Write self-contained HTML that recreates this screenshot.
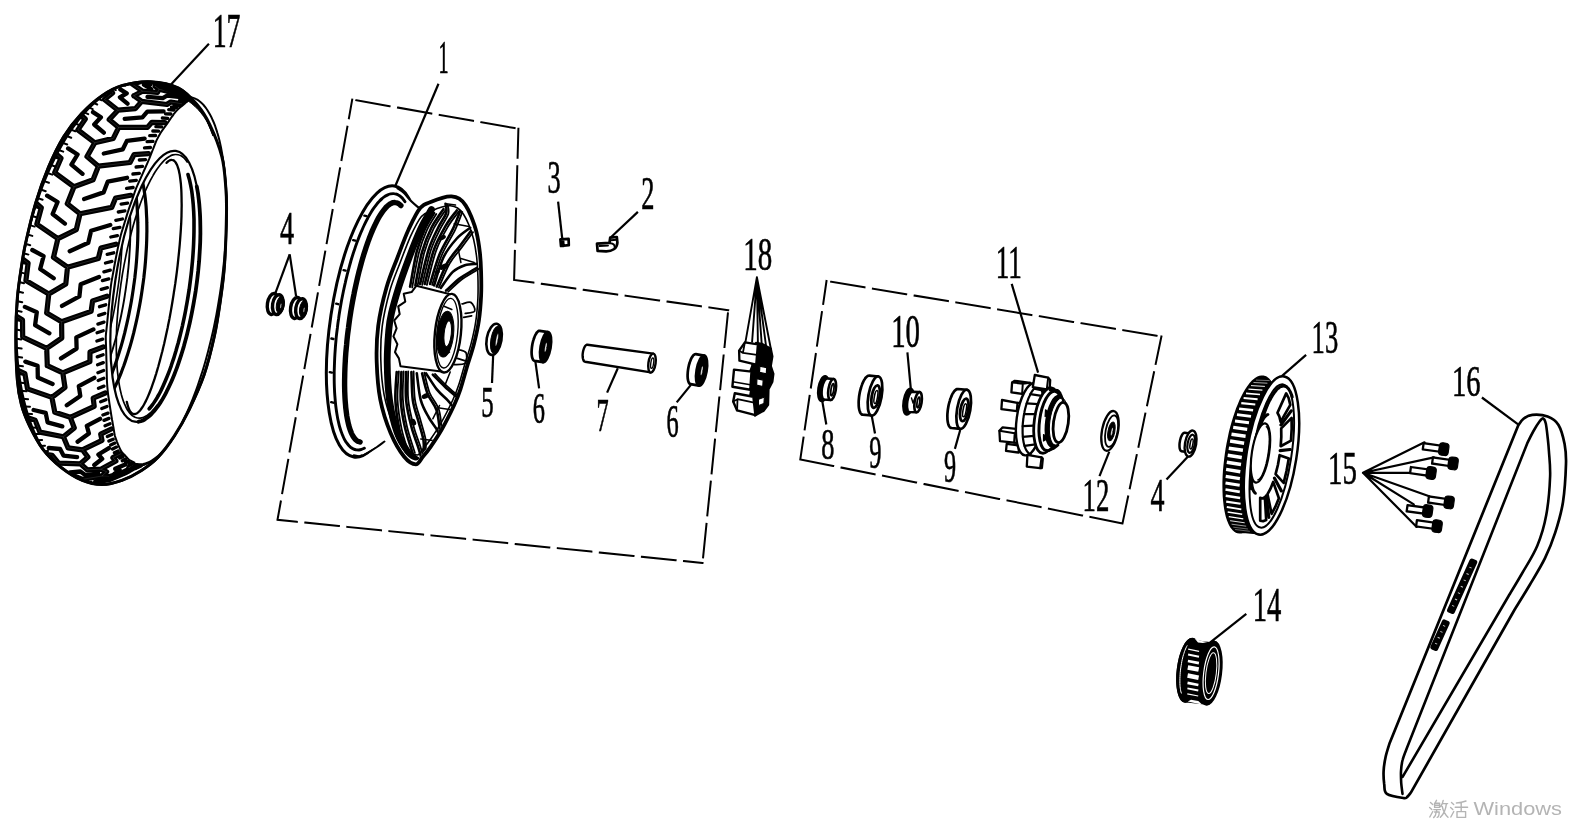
<!DOCTYPE html>
<html><head><meta charset="utf-8"><title>Rear wheel assembly</title>
<style>
html,body{margin:0;padding:0;background:#fff;}
body{width:1580px;height:823px;overflow:hidden;font-family:"Liberation Serif",serif;}
svg{display:block;position:absolute;left:0;top:0;will-change:transform;}
.k{stroke:#000;fill:none;stroke-linecap:round;stroke-linejoin:round;}
.w{stroke:#000;fill:#fff;stroke-linecap:round;stroke-linejoin:round;}
.b{stroke:#000;fill:#000;stroke-linejoin:round;}
text{font-family:"Liberation Serif",serif;fill:#000;}
</style></head><body>
<svg width="1580" height="823" viewBox="0 0 1580 823">
<rect x="0" y="0" width="1580" height="823" fill="#fff"/>
<!-- p_base -->
<path class="k" stroke-width="2" style="stroke-linecap:square" d="M356.3 100.3 L389.6 106.2 M398.0 107.6 L431.3 113.5 M439.7 115.0 L473.0 120.8 M481.3 122.3 L514.6 128.1 M518.4 128.8 L517.6 157.8 M517.3 166.3 L516.4 200.1 M516.1 208.6 L515.2 242.4 M514.9 250.9 L514.1 279.9 M514.1 279.9 L533.4 282.6 M541.8 283.8 L575.3 288.6 M583.7 289.8 L617.2 294.5 M625.6 295.7 L659.1 300.4 M667.5 301.6 L700.9 306.3 M709.4 307.5 L728.2 310.2 M727.9 313.4 L724.5 347.0 M723.6 355.5 L720.2 389.1 M719.3 397.5 L715.9 431.2 M715.0 439.6 L711.6 473.3 M710.8 481.7 L707.3 515.3 M706.5 523.8 L703.1 557.4 M277.5 519.8 L296.8 521.8 M305.3 522.6 L338.9 526.0 M347.3 526.9 L381.0 530.3 M389.4 531.2 L423.1 534.6 M431.5 535.4 L465.1 538.8 M473.6 539.7 L507.2 543.1 M515.7 544.0 L549.3 547.4 M557.8 548.2 L591.4 551.6 M599.8 552.5 L633.5 555.9 M641.9 556.8 L675.6 560.2 M684.0 561.0 L702.5 562.9 M352.2 99.6 L348.9 118.3 M347.4 126.7 L341.5 160.0 M340.0 168.3 L334.1 201.6 M332.6 210.0 L326.7 243.2 M325.2 251.6 L319.3 284.9 M317.8 293.3 L311.9 326.5 M310.4 334.9 L304.5 368.2 M303.0 376.6 L297.0 409.8 M295.6 418.2 L289.6 451.5 M288.2 459.9 L282.2 493.1 M280.8 501.5 L277.5 519.8 M831.1 281.8 L864.5 287.3 M872.9 288.7 L906.2 294.2 M914.6 295.6 L947.9 301.1 M956.3 302.5 L989.7 308.0 M998.1 309.4 L1031.4 315.0 M1039.8 316.3 L1073.1 321.9 M1081.5 323.3 L1114.9 328.8 M1123.3 330.2 L1156.6 335.7 M826.5 281.0 L823.2 303.8 M821.9 312.2 L817.0 345.6 M815.8 354.0 L810.9 387.5 M809.6 395.9 L804.7 429.3 M803.5 437.7 L800.3 459.4 M800.3 459.4 L833.2 465.9 M841.5 467.6 L874.6 474.2 M883.0 475.8 L916.1 482.4 M924.5 484.1 L957.6 490.7 M966.0 492.3 L999.1 498.9 M1007.5 500.5 L1040.6 507.1 M1048.9 508.8 L1082.1 515.4 M1090.4 517.0 L1122.5 523.4 M1161.4 336.5 L1155.7 363.9 M1154.0 372.2 L1147.1 405.3 M1145.3 413.6 L1138.5 446.7 M1136.7 455.1 L1129.8 488.2 M1128.1 496.5 L1122.5 523.4"/>
<g class="k" stroke-width="2.2" style="stroke-linecap:butt">
<path d="M208.9 43.7 L168.4 87.3"/>
<path d="M438.5 83.8 L395.2 186.2"/>
<path d="M558.1 201.7 L562.2 238.3"/>
<path d="M637.9 211.9 L610.9 237.3"/>
<path d="M289.7 254.4 L275.4 293.2"/>
<path d="M289.7 254.4 L296.1 296.1"/>
<path d="M493.2 354.4 L492.0 383.0"/>
<path d="M535.3 360.9 L539.1 388.4"/>
<path d="M617.8 368.3 L607.1 392.6"/>
<path d="M690.9 384.9 L676.7 402.4"/>
<path d="M822.2 400.6 L826.3 424.5"/>
<path d="M871.7 415.8 L875.0 433.5"/>
<path d="M907.4 352.3 L910.9 389.9"/>
<path d="M960.2 430.0 L954.9 448.9"/>
<path d="M1011.7 283.9 L1038.1 372.6"/>
<path d="M1109.3 451.7 L1099.5 476.1"/>
<path d="M1188.0 456.4 L1166.5 479.5"/>
<path d="M1306.1 354.8 L1281.8 376.1"/>
<path d="M1246.3 613.8 L1208.4 643.8"/>
<path d="M1481.9 397.5 L1518.8 424.8"/>
</g>
<text font-size="100" stroke="#000" stroke-width="0.55" vector-effect="non-scaling-stroke" transform="translate(212.70 46.80) scale(0.2780 0.4879)">17</text>
<text font-size="100" stroke="#000" stroke-width="0.55" vector-effect="non-scaling-stroke" transform="translate(438.50 73.20) scale(0.2020 0.4697)">1</text>
<text font-size="100" stroke="#000" stroke-width="0.55" vector-effect="non-scaling-stroke" transform="translate(547.60 193.14) scale(0.2640 0.4627)">3</text>
<text font-size="100" stroke="#000" stroke-width="0.55" vector-effect="non-scaling-stroke" transform="translate(641.30 209.30) scale(0.2640 0.4682)">2</text>
<text font-size="100" stroke="#000" stroke-width="0.55" vector-effect="non-scaling-stroke" transform="translate(743.20 270.23) scale(0.2900 0.4652)">18</text>
<text font-size="100" stroke="#000" stroke-width="0.55" vector-effect="non-scaling-stroke" transform="translate(280.00 243.90) scale(0.2820 0.4636)">4</text>
<text font-size="100" stroke="#000" stroke-width="0.55" vector-effect="non-scaling-stroke" transform="translate(481.30 416.85) scale(0.2480 0.4526)">5</text>
<text font-size="100" stroke="#000" stroke-width="0.55" vector-effect="non-scaling-stroke" transform="translate(532.80 422.85) scale(0.2440 0.4493)">6</text>
<text font-size="100" stroke="#000" stroke-width="0.55" vector-effect="non-scaling-stroke" transform="translate(596.50 430.60) scale(0.2440 0.4656)">7</text>
<text font-size="100" stroke="#000" stroke-width="0.55" vector-effect="non-scaling-stroke" transform="translate(666.50 437.44) scale(0.2440 0.4552)">6</text>
<text font-size="100" stroke="#000" stroke-width="0.55" vector-effect="non-scaling-stroke" transform="translate(821.20 458.95) scale(0.2640 0.4504)">8</text>
<text font-size="100" stroke="#000" stroke-width="0.55" vector-effect="non-scaling-stroke" transform="translate(869.30 468.14) scale(0.2440 0.4552)">9</text>
<text font-size="100" stroke="#000" stroke-width="0.55" vector-effect="non-scaling-stroke" transform="translate(891.20 346.84) scale(0.2880 0.4578)">10</text>
<text font-size="100" stroke="#000" stroke-width="0.55" vector-effect="non-scaling-stroke" transform="translate(944.00 482.34) scale(0.2420 0.4552)">9</text>
<text font-size="100" stroke="#000" stroke-width="0.55" vector-effect="non-scaling-stroke" transform="translate(995.70 278.30) scale(0.2715 0.4667)">11</text>
<text font-size="100" stroke="#000" stroke-width="0.55" vector-effect="non-scaling-stroke" transform="translate(1082.50 510.60) scale(0.2680 0.4682)">12</text>
<text font-size="100" stroke="#000" stroke-width="0.55" vector-effect="non-scaling-stroke" transform="translate(1150.50 511.20) scale(0.2800 0.4606)">4</text>
<text font-size="100" stroke="#000" stroke-width="0.55" vector-effect="non-scaling-stroke" transform="translate(1311.60 353.34) scale(0.2660 0.4612)">13</text>
<text font-size="100" stroke="#000" stroke-width="0.55" vector-effect="non-scaling-stroke" transform="translate(1252.70 620.70) scale(0.2860 0.4788)">14</text>
<text font-size="100" stroke="#000" stroke-width="0.55" vector-effect="non-scaling-stroke" transform="translate(1328.10 483.94) scale(0.2890 0.4582)">15</text>
<text font-size="100" stroke="#000" stroke-width="0.55" vector-effect="non-scaling-stroke" transform="translate(1451.90 395.75) scale(0.2860 0.4522)">16</text>
<!-- p_tire -->
<defs><clipPath id="tcl"><path d="M150.5 81.7 C159.9 82.1 170.8 84.2 178.6 88.1 C186.4 92.0 192.4 99.1 197.6 105.2 C202.8 111.3 205.8 116.0 209.8 124.6 C213.9 133.2 219.2 146.4 221.9 156.9 C224.6 167.4 225.0 178.2 225.8 187.6 C226.6 197.0 226.7 200.2 226.5 213.1 C226.3 226.0 225.5 250.8 224.5 265.0 C223.5 279.2 222.4 286.4 220.7 298.3 C219.0 310.2 217.1 323.8 214.3 336.5 C211.5 349.2 208.3 362.6 204.1 374.8 C199.9 387.0 194.1 399.4 189.2 409.6 C184.2 419.8 179.6 427.9 174.4 435.9 C169.2 443.8 163.5 451.5 158.0 457.3 C152.5 463.1 147.5 466.6 141.5 470.5 C135.5 474.4 128.4 478.1 121.8 480.4 C115.2 482.7 108.6 484.5 102.0 484.5 C95.4 484.5 89.1 483.3 82.3 480.4 C75.5 477.5 67.5 472.4 60.9 467.2 C54.3 462.0 48.0 456.0 42.8 449.1 C37.6 442.2 33.2 433.5 29.6 426.1 C26.0 418.7 23.4 412.4 21.4 404.7 C19.3 397.0 18.2 391.4 17.3 380.0 C16.4 368.6 15.8 350.1 15.8 336.5 C15.8 322.9 16.3 310.2 17.3 298.3 C18.3 286.4 20.3 274.1 21.7 265.0 C23.1 255.9 23.2 254.0 25.5 243.7 C27.8 233.3 31.9 215.7 35.7 202.9 C39.5 190.1 43.8 178.2 48.5 167.1 C53.2 156.0 58.3 145.4 63.8 136.5 C69.3 127.6 75.2 120.4 81.6 113.6 C88.0 106.8 95.2 100.4 102.0 95.7 C108.8 91.0 114.3 87.8 122.4 85.5 C130.5 83.2 141.1 81.3 150.5 81.7 Z"/></clipPath></defs>
<path class="w" stroke-width="2.6" d="M150.5 81.7 C159.9 82.1 170.8 84.2 178.6 88.1 C186.4 92.0 192.4 99.1 197.6 105.2 C202.8 111.3 205.8 116.0 209.8 124.6 C213.9 133.2 219.2 146.4 221.9 156.9 C224.6 167.4 225.0 178.2 225.8 187.6 C226.6 197.0 226.7 200.2 226.5 213.1 C226.3 226.0 225.5 250.8 224.5 265.0 C223.5 279.2 222.4 286.4 220.7 298.3 C219.0 310.2 217.1 323.8 214.3 336.5 C211.5 349.2 208.3 362.6 204.1 374.8 C199.9 387.0 194.1 399.4 189.2 409.6 C184.2 419.8 179.6 427.9 174.4 435.9 C169.2 443.8 163.5 451.5 158.0 457.3 C152.5 463.1 147.5 466.6 141.5 470.5 C135.5 474.4 128.4 478.1 121.8 480.4 C115.2 482.7 108.6 484.5 102.0 484.5 C95.4 484.5 89.1 483.3 82.3 480.4 C75.5 477.5 67.5 472.4 60.9 467.2 C54.3 462.0 48.0 456.0 42.8 449.1 C37.6 442.2 33.2 433.5 29.6 426.1 C26.0 418.7 23.4 412.4 21.4 404.7 C19.3 397.0 18.2 391.4 17.3 380.0 C16.4 368.6 15.8 350.1 15.8 336.5 C15.8 322.9 16.3 310.2 17.3 298.3 C18.3 286.4 20.3 274.1 21.7 265.0 C23.1 255.9 23.2 254.0 25.5 243.7 C27.8 233.3 31.9 215.7 35.7 202.9 C39.5 190.1 43.8 178.2 48.5 167.1 C53.2 156.0 58.3 145.4 63.8 136.5 C69.3 127.6 75.2 120.4 81.6 113.6 C88.0 106.8 95.2 100.4 102.0 95.7 C108.8 91.0 114.3 87.8 122.4 85.5 C130.5 83.2 141.1 81.3 150.5 81.7 Z" />
<g clip-path="url(#tcl)">
<path class="k" stroke-width="5.2" d="M197.5 115.7 L199.1 113.1 L194.3 105.7 L185.5 99.3 L178.2 93.2 M199.1 113.1 L209.9 122.0 L212.4 128.0 L216.7 132.5 M185.5 99.3 L182.2 100.8 L188.5 108.9 L188.1 110.1 M178.2 93.2 L180.8 93.5 L174.9 90.7 L163.6 86.8 L155.1 86.1 M180.8 93.5 L195.5 100.6 L198.8 103.8 L205.0 107.6 M163.6 86.8 L158.3 84.2 L165.9 87.6 L165.2 87.6 M155.1 86.1 L159.1 89.2 L157.4 92.5 L142.5 91.2 L133.8 95.7 M159.1 89.2 L177.7 93.8 L181.7 94.1 L189.8 96.7 M142.5 91.2 L132.1 83.9 L139.6 82.0 L138.3 80.8 M133.8 95.7 L141.7 101.4 L135.4 108.6 L118.0 110.2 L109.2 119.6 M141.7 101.4 L166.9 104.5 L170.7 102.0 L181.9 103.8 M118.0 110.2 L104.4 99.5 L112.6 92.9 L109.8 90.4 M109.2 119.6 L118.7 127.4 L113.3 138.4 L94.8 142.8 L87.0 156.6 M118.7 127.4 L147.5 127.4 L151.9 122.3 L165.1 122.7 M94.8 142.8 L77.9 129.9 L85.3 119.0 L81.7 115.6 M87.0 156.6 L98.4 166.2 L93.1 179.8 L74.0 186.8 L67.3 203.7 M98.4 166.2 L130.0 162.5 L134.0 154.7 L148.5 153.6 M74.0 186.8 L54.7 172.6 L61.0 158.3 L56.5 154.3 M67.3 203.7 L80.0 213.8 L76.3 229.7 L57.9 238.6 L53.5 257.3 M80.0 213.8 L111.7 207.4 L115.6 198.0 L130.8 195.3 M57.9 238.6 L36.8 224.2 L41.3 207.7 L36.2 203.3 M53.5 257.3 L67.5 267.2 L65.8 283.9 L48.8 293.9 L46.7 312.9 M67.5 267.2 L98.3 258.5 L100.9 248.1 L115.9 244.2 M48.8 293.9 L25.9 280.6 L28.1 263.1 L22.4 258.8 M46.7 312.9 L61.6 321.7 L61.8 338.0 L46.7 348.3 L47.3 365.7 M61.6 321.7 L91.1 311.4 L92.6 300.9 L107.0 296.2 M46.7 348.3 L22.7 337.0 L22.5 320.0 L16.4 316.1 M47.3 365.7 L62.8 372.8 L65.0 387.5 L51.9 397.4 L54.8 412.2 M62.8 372.8 L89.9 361.6 L90.0 352.0 L103.4 346.9 M51.9 397.4 L27.5 388.9 L24.9 373.7 L18.5 370.6 M54.8 412.2 L70.3 417.3 L74.3 428.0 L63.4 436.8 L68.0 447.8 M70.3 417.3 L94.2 406.3 L93.2 398.1 L105.3 393.0 M63.4 436.8 L39.9 432.1 L35.1 420.1 L28.5 417.9 M68.0 447.8 L82.4 449.8 L87.9 457.1 L80.4 463.8 L87.2 469.8 M82.4 449.8 L102.0 440.4 L100.7 434.1 L111.3 429.0 M80.4 463.8 L58.6 463.1 L52.0 455.2 L45.8 454.2 M87.2 469.8 L100.8 469.2 L106.7 471.8 L101.9 476.0 L109.8 476.6 M100.8 469.2 L115.9 461.0 L112.9 457.7 L120.9 453.7 M101.9 476.0 L82.5 479.4 L74.6 476.2 L68.8 476.4 M109.8 476.6 L121.5 473.0 L128.9 470.9 L126.4 472.3 L134.7 467.5 M121.5 473.0 L132.2 467.6 L128.7 467.5 L134.8 464.4 M126.4 472.3 L109.5 479.5 L100.8 481.3 L95.7 482.7 M134.7 467.5 L144.7 461.3 L152.1 454.6 L151.4 453.0 L159.5 443.2 M144.7 461.3 L151.8 458.8 L148.0 461.7 L152.3 460.0 M151.4 453.0 L137.4 463.6 L128.8 470.2 L124.4 472.8" />
<path class="k" stroke-width="0.5" d="M197.5 115.7 L199.1 113.1 L194.3 105.7 L185.5 99.3 L178.2 93.2 M199.1 113.1 L209.9 122.0 L212.4 128.0 L216.7 132.5 M185.5 99.3 L182.2 100.8 L188.5 108.9 L188.1 110.1 M178.2 93.2 L180.8 93.5 L174.9 90.7 L163.6 86.8 L155.1 86.1 M180.8 93.5 L195.5 100.6 L198.8 103.8 L205.0 107.6 M163.6 86.8 L158.3 84.2 L165.9 87.6 L165.2 87.6 M155.1 86.1 L159.1 89.2 L157.4 92.5 L142.5 91.2 L133.8 95.7 M159.1 89.2 L177.7 93.8 L181.7 94.1 L189.8 96.7 M142.5 91.2 L132.1 83.9 L139.6 82.0 L138.3 80.8 M133.8 95.7 L141.7 101.4 L135.4 108.6 L118.0 110.2 L109.2 119.6 M141.7 101.4 L166.9 104.5 L170.7 102.0 L181.9 103.8 M118.0 110.2 L104.4 99.5 L112.6 92.9 L109.8 90.4 M109.2 119.6 L118.7 127.4 L113.3 138.4 L94.8 142.8 L87.0 156.6 M118.7 127.4 L147.5 127.4 L151.9 122.3 L165.1 122.7 M94.8 142.8 L77.9 129.9 L85.3 119.0 L81.7 115.6 M87.0 156.6 L98.4 166.2 L93.1 179.8 L74.0 186.8 L67.3 203.7 M98.4 166.2 L130.0 162.5 L134.0 154.7 L148.5 153.6 M74.0 186.8 L54.7 172.6 L61.0 158.3 L56.5 154.3 M67.3 203.7 L80.0 213.8 L76.3 229.7 L57.9 238.6 L53.5 257.3 M80.0 213.8 L111.7 207.4 L115.6 198.0 L130.8 195.3 M57.9 238.6 L36.8 224.2 L41.3 207.7 L36.2 203.3 M53.5 257.3 L67.5 267.2 L65.8 283.9 L48.8 293.9 L46.7 312.9 M67.5 267.2 L98.3 258.5 L100.9 248.1 L115.9 244.2 M48.8 293.9 L25.9 280.6 L28.1 263.1 L22.4 258.8 M46.7 312.9 L61.6 321.7 L61.8 338.0 L46.7 348.3 L47.3 365.7 M61.6 321.7 L91.1 311.4 L92.6 300.9 L107.0 296.2 M46.7 348.3 L22.7 337.0 L22.5 320.0 L16.4 316.1 M47.3 365.7 L62.8 372.8 L65.0 387.5 L51.9 397.4 L54.8 412.2 M62.8 372.8 L89.9 361.6 L90.0 352.0 L103.4 346.9 M51.9 397.4 L27.5 388.9 L24.9 373.7 L18.5 370.6 M54.8 412.2 L70.3 417.3 L74.3 428.0 L63.4 436.8 L68.0 447.8 M70.3 417.3 L94.2 406.3 L93.2 398.1 L105.3 393.0 M63.4 436.8 L39.9 432.1 L35.1 420.1 L28.5 417.9 M68.0 447.8 L82.4 449.8 L87.9 457.1 L80.4 463.8 L87.2 469.8 M82.4 449.8 L102.0 440.4 L100.7 434.1 L111.3 429.0 M80.4 463.8 L58.6 463.1 L52.0 455.2 L45.8 454.2 M87.2 469.8 L100.8 469.2 L106.7 471.8 L101.9 476.0 L109.8 476.6 M100.8 469.2 L115.9 461.0 L112.9 457.7 L120.9 453.7 M101.9 476.0 L82.5 479.4 L74.6 476.2 L68.8 476.4 M109.8 476.6 L121.5 473.0 L128.9 470.9 L126.4 472.3 L134.7 467.5 M121.5 473.0 L132.2 467.6 L128.7 467.5 L134.8 464.4 M126.4 472.3 L109.5 479.5 L100.8 481.3 L95.7 482.7 M134.7 467.5 L144.7 461.3 L152.1 454.6 L151.4 453.0 L159.5 443.2 M144.7 461.3 L151.8 458.8 L148.0 461.7 L152.3 460.0 M151.4 453.0 L137.4 463.6 L128.8 470.2 L124.4 472.8" style="stroke:#fff;opacity:.25"/>
<path class="k" stroke-width="4.3" d="M186.3 97.6 L195.4 103.3 L199.1 107.9 L206.5 113.6 M193.4 116.2 L195.0 114.8 L190.4 108.0 L192.0 106.1 M165.4 88.7 L177.0 92.0 L181.4 93.2 L191.3 97.2 M172.2 91.5 L174.6 91.8 L168.8 88.5 L171.4 89.3 M147.5 96.9 L162.8 98.1 L167.2 95.5 L180.8 97.2 M146.8 82.2 L150.4 84.3 L143.8 84.7 L151.2 89.0 M124.7 118.8 L142.4 117.4 L147.3 111.6 L163.6 111.3 M120.3 89.4 L126.7 93.4 L119.9 97.3 L127.5 103.7 M103.8 153.5 L122.8 149.3 L126.9 140.9 L144.6 138.6 M93.0 112.1 L100.9 117.3 L94.2 124.5 L103.8 132.7 M84.1 199.0 L103.6 192.4 L107.7 181.7 L127.1 177.8 M68.1 148.4 L77.6 154.5 L71.4 164.6 L82.5 173.8 M69.7 251.2 L88.3 242.7 L91.1 230.8 L110.3 225.0 M47.1 195.7 L57.6 202.0 L52.6 214.0 L64.9 223.6 M62.0 305.9 L79.4 296.4 L80.7 284.2 L99.0 277.0 M32.3 250.0 L43.6 256.1 L40.2 269.0 L53.7 278.3 M61.0 358.4 L76.6 348.6 L76.3 337.4 L93.4 329.4 M24.9 306.9 L36.8 312.2 L35.1 325.1 L49.4 333.3 M66.8 405.3 L80.3 396.0 L78.8 386.1 L94.3 377.8 M25.3 361.6 L37.6 365.8 L37.8 377.5 L52.6 384.0 M77.6 441.7 L88.9 433.4 L86.8 425.9 L100.1 418.8 M33.6 410.0 L45.7 412.8 L47.6 422.4 L62.3 426.4 M94.3 465.0 L102.2 458.8 L98.4 454.5 L108.9 448.1 M48.8 448.0 L60.1 449.0 L63.5 455.6 L77.1 457.1 M114.5 473.7 L119.7 470.0 L115.2 468.8 L125.2 464.6 M70.1 472.3 L80.4 471.5 L85.2 474.9 L98.4 473.7 M137.6 466.5 L140.5 465.5 L135.7 467.9 L140.7 465.5 M95.4 481.2 L104.3 478.7 L109.7 478.3 L120.7 474.3 M160.8 444.2 L162.0 446.0 L157.1 451.7 L160.2 451.5 M123.0 473.8 L130.5 469.8 L136.1 465.7 L145.4 459.4" />
<path class="k" stroke-width="3.3" d="M214.9 127.4 L213.0 125.6 M213.1 122.7 L211.1 120.9 M211.2 118.3 L209.0 116.6 M209.2 114.3 L206.9 112.7 M207.1 110.7 L204.6 109.1 M202.5 104.7 L199.8 103.2 M200.1 102.3 L197.2 100.8 M197.6 100.2 L194.6 98.9 M195.0 98.6 L191.8 97.3 M192.3 97.4 L189.0 96.2 M186.8 96.3 L183.2 95.2 M183.9 96.3 L180.2 95.3 M181.0 96.8 L177.2 95.9 M186.6 99.5 L182.2 98.8 M184.1 101.6 L179.5 100.8 M179.0 105.8 L174.1 105.0 M176.4 107.9 L171.4 107.2 M173.9 110.1 L168.7 109.6 M170.9 114.0 L165.5 113.8 M167.8 118.3 L162.3 118.0 M161.7 126.9 L155.9 126.6 M158.6 131.2 L152.8 131.0 M155.6 135.5 L149.7 135.7 M153.0 141.4 L147.1 141.7 M150.5 147.5 L144.5 147.8 M145.6 159.6 L139.3 160.0 M142.6 166.4 L136.1 167.0 M139.4 173.4 L132.9 174.0 M136.3 180.4 L129.7 181.1 M133.1 187.5 L126.6 188.4 M127.6 203.1 L121.1 204.1 M124.9 210.9 L118.3 212.0 M122.4 219.0 L115.8 220.3 M119.9 227.3 L113.3 228.6 M117.4 235.6 L110.8 237.0 M113.7 252.8 L107.2 254.3 M111.9 261.4 L105.5 263.0 M110.3 270.1 L103.9 271.8 M108.8 278.9 L102.4 280.6 M107.4 287.6 L101.2 289.3 M105.7 304.8 L99.5 306.7 M104.9 313.4 L98.7 315.4 M104.0 322.1 L97.9 324.1 M103.2 330.7 L97.1 332.7 M102.7 339.1 L96.9 341.0 M103.1 354.8 L97.3 356.9 M103.3 362.6 L97.6 364.8 M103.6 370.5 L97.9 372.7 M103.8 378.3 L98.2 380.5 M104.0 386.1 L98.5 388.3 M105.9 399.7 L100.7 401.8 M107.0 406.4 L101.8 408.6 M108.0 413.1 L102.9 415.0 M109.0 418.4 L104.0 420.4 M110.0 423.8 L105.1 425.8 M112.0 434.4 L107.4 436.5 M113.2 439.2 L108.9 441.0 M114.9 443.1 L110.7 445.0 M116.5 447.1 L112.5 449.0 M118.2 450.9 L114.4 452.8 M123.1 456.4 L119.7 458.1 M125.7 459.0 L122.3 460.7 M128.5 461.3 L125.5 462.8 M132.1 463.0 L129.1 464.5 M131.8 463.8 L128.9 465.2 M137.3 464.8 L134.7 466.1 M140.2 464.7 L137.7 465.9 M143.1 464.2 L140.8 465.2 M146.1 463.2 L143.9 464.2 M149.1 461.9 L147.0 462.7 M155.1 457.9 L153.3 458.6 M158.2 455.3 L156.5 455.9 M161.2 452.3 L159.7 452.8 M164.3 448.9 L162.8 449.3 M167.4 445.2 L166.0 445.5" />
<path class="k" stroke-width="2.0" d="M197.1 124.2 L196.1 124.3 M194.2 118.5 L193.0 118.5 M191.0 113.1 L189.8 113.1 M187.7 108.2 L186.5 108.0 M184.3 103.6 L182.9 103.4 M180.7 99.5 L179.2 99.2 M176.9 95.8 L175.4 95.3 M173.1 92.5 L171.4 91.9 M169.1 89.6 L167.3 89.0 M164.9 87.1 L163.1 86.5 M160.7 85.1 L158.8 84.4 M156.4 83.6 L154.4 82.7 M152.0 82.5 L149.9 81.6 M147.6 81.8 L145.3 80.8 M143.0 81.6 L140.6 80.6 M138.4 81.9 L135.9 80.8 M134.4 82.7 L131.2 81.4 M129.8 83.9 L126.4 82.5 M125.1 85.6 L121.6 84.1 M120.4 87.7 L116.8 86.1 M115.8 90.1 L112.0 88.5 M111.1 93.0 L107.2 91.4 M106.5 96.4 L102.4 94.7 M101.8 100.3 L97.6 98.5 M97.2 104.5 L92.9 102.7 M92.7 109.1 L88.3 107.2 M88.2 114.1 L83.7 112.2 M83.8 119.4 L79.1 117.6 M79.5 125.2 L74.7 123.3 M75.3 131.3 L70.3 129.4 M71.2 137.8 L66.1 135.8 M67.2 144.5 L62.0 142.6 M63.2 151.6 L58.0 149.7 M59.4 159.0 L54.1 157.1 M55.8 166.7 L50.4 164.8 M52.2 174.6 L46.8 172.7 M48.9 182.8 L43.4 180.9 M45.7 191.2 L40.1 189.3 M42.6 199.8 L37.0 197.9 M39.8 208.6 L34.1 206.8 M37.1 217.5 L31.4 215.7 M34.6 226.6 L28.9 224.9 M32.3 235.9 L26.6 234.2 M30.2 245.2 L24.5 243.5 M28.4 254.6 L22.6 253.0 M26.7 264.1 L20.9 262.5 M25.2 273.6 L19.4 272.1 M24.0 283.2 L18.1 281.7 M23.0 292.7 L17.1 291.3 M22.2 302.2 L16.3 300.9 M21.6 311.7 L15.7 310.4 M21.3 321.1 L15.3 319.9 M21.1 330.4 L15.2 329.3 M21.2 339.6 L15.3 338.5 M21.6 348.6 L15.6 347.7 M22.1 357.5 L16.2 356.7 M22.9 366.3 L17.0 365.5 M23.9 374.8 L18.0 374.1 M25.1 383.2 L19.2 382.5 M26.5 391.3 L20.7 390.7 M28.1 399.2 L22.4 398.7 M30.0 406.7 L24.3 406.4 M32.0 414.1 L26.4 413.7 M34.3 421.1 L28.7 420.8 M36.7 427.7 L31.2 427.6 M39.3 434.1 L33.9 434.1 M42.1 440.1 L36.7 440.2 M45.0 445.8 L39.8 445.9 M48.1 451.0 L43.1 451.3 M51.5 455.9 L46.5 456.3 M54.9 460.4 L50.0 460.8 M58.5 464.5 L53.7 465.0 M62.3 468.2 L57.6 468.8 M66.2 471.4 L61.6 472.1 M70.2 474.2 L65.7 475.0 M74.3 476.6 L69.9 477.5 M78.6 478.6 L74.3 479.5 M82.8 480.0 L78.7 481.1 M87.2 481.1 L83.2 482.2 M91.6 481.7 L87.8 482.8 M96.2 481.8 L92.4 483.0 M100.8 481.5 L97.2 482.8 M105.4 480.7 L101.9 482.1 M110.1 479.4 L106.7 480.9 M114.8 477.8 L111.5 479.3 M119.5 475.6 L116.3 477.2 M124.2 473.1 L121.1 474.7 M128.8 470.1 L125.9 471.7 M133.5 466.6 L130.7 468.3 M138.1 462.8 L135.5 464.5" />
<path class="k" stroke-width="4.5" d="M68.7 476.8 C67.7 476.2 64.6 474.4 62.6 472.9 C60.6 471.4 58.7 469.8 56.8 468.0 C54.9 466.3 53.0 464.3 51.2 462.3 C49.4 460.2 47.7 458.0 46.0 455.6 C44.3 453.2 42.7 450.7 41.1 448.1 C39.5 445.5 38.0 442.7 36.6 439.8 C35.1 436.9 33.7 433.9 32.4 430.7 C31.1 427.6 29.9 424.3 28.7 420.9 C27.5 417.5 26.4 414.0 25.4 410.4 C24.4 406.8 23.4 403.1 22.5 399.3 C21.6 395.5 20.8 391.6 20.1 387.6 C19.4 383.7 18.7 379.6 18.2 375.4 C17.6 371.3 17.1 367.1 16.7 362.8 C16.3 358.5 16.0 354.2 15.7 349.7 C15.5 345.3 15.3 340.9 15.3 336.4 C15.2 331.9 15.2 327.3 15.3 322.7 C15.3 318.1 15.5 313.5 15.8 308.9 C16.0 304.2 16.3 299.6 16.7 294.9 C17.2 290.2 17.6 285.5 18.2 280.9 C18.8 276.2 19.4 271.5 20.2 266.8 C20.9 262.2 21.7 257.5 22.6 252.9 C23.5 248.2 24.4 243.6 25.4 239.0 C26.5 234.5 27.6 229.9 28.8 225.4 C29.9 220.9 31.2 216.5 32.5 212.1 C33.8 207.7 35.2 203.4 36.7 199.1 C38.1 194.8 39.6 190.6 41.2 186.5 C42.8 182.4 44.4 178.3 46.1 174.4 C47.8 170.4 49.5 166.5 51.3 162.8 C53.1 159.0 55.0 155.3 56.9 151.7 C58.8 148.2 60.7 144.7 62.7 141.3 C64.7 138.0 66.8 134.7 68.8 131.6 C70.9 128.5 73.0 125.5 75.2 122.7 C77.3 119.8 79.5 117.0 81.7 114.4 C83.9 111.8 86.2 109.4 88.4 107.1 C90.7 104.7 93.0 102.6 95.3 100.5 C97.6 98.5 99.9 96.6 102.2 94.9 C104.5 93.1 106.9 91.6 109.2 90.1 C111.6 88.7 113.9 87.4 116.3 86.3 C118.6 85.2 121.0 84.3 123.3 83.5 C125.7 82.7 129.2 81.9 130.3 81.6" />
</g>
<path class="w" stroke-width="2.0" d="M134.4 462.5 C134.1 462.1 130.7 461.0 129.3 460.0 C127.8 458.9 126.9 457.4 125.7 456.2 C124.5 454.9 123.2 453.8 122.1 452.4 C121.0 450.9 120.1 449.1 119.3 447.3 C118.4 445.6 117.7 443.6 116.9 441.6 C116.2 439.7 115.4 437.7 114.8 435.4 C114.3 433.1 113.9 430.3 113.5 427.7 C113.0 425.1 112.6 422.6 112.1 420.0 C111.7 417.3 111.2 415.0 110.8 412.0 C110.3 409.1 109.8 405.5 109.3 402.3 C108.8 399.0 108.2 395.9 107.9 392.6 C107.5 389.2 107.2 385.7 107.0 382.0 C106.8 378.3 106.8 374.4 106.7 370.6 C106.6 366.8 106.5 362.9 106.4 359.1 C106.3 355.3 106.2 351.5 106.1 347.7 C106.0 343.9 105.7 340.2 105.8 336.2 C106.0 332.2 106.7 327.9 107.1 323.7 C107.5 319.5 107.9 315.3 108.3 311.1 C108.8 306.9 109.2 302.7 109.6 298.5 C110.0 294.3 110.3 290.2 110.9 286.0 C111.4 281.8 112.3 277.5 113.1 273.2 C113.8 269.0 114.6 264.7 115.4 260.5 C116.2 256.3 117.0 252.1 117.9 247.9 C118.8 243.7 119.7 239.5 120.7 235.4 C121.8 231.4 123.2 227.4 124.4 223.4 C125.6 219.4 126.8 215.3 128.1 211.4 C129.3 207.5 130.7 203.8 132.1 200.0 C133.4 196.2 134.6 192.3 136.0 188.6 C137.5 185.0 139.1 181.7 140.6 178.3 C142.1 174.9 143.7 171.4 145.2 168.0 C146.6 164.7 148.1 161.5 149.4 158.4 C150.6 155.3 151.7 152.5 152.9 149.5 C154.1 146.6 155.2 143.4 156.4 140.6 C157.7 137.9 159.0 135.5 160.4 133.2 C161.8 130.9 163.4 129.0 164.8 126.9 C166.3 124.8 167.8 122.7 169.2 120.6 C170.7 118.5 172.2 116.2 173.6 114.3 C175.1 112.5 176.4 110.9 177.7 109.6 C179.0 108.2 180.1 107.5 181.3 106.5 C182.5 105.4 183.7 104.4 184.9 103.4 C186.1 102.3 188.7 101.3 188.5 100.3 C188.3 99.2 183.9 97.7 183.8 97.1 C183.7 96.6 186.6 96.8 187.9 96.8 C189.3 96.9 190.6 97.1 191.9 97.4 C193.2 97.7 194.5 98.2 195.8 98.9 C197.0 99.5 198.3 100.3 199.5 101.2 C200.7 102.1 201.9 103.2 203.0 104.4 C204.1 105.7 205.3 107.0 206.3 108.5 C207.4 110.0 208.4 111.7 209.4 113.4 C210.5 115.2 211.4 117.1 212.3 119.2 C213.3 121.2 214.2 123.4 215.0 125.7 C215.8 128.0 216.7 130.4 217.4 133.0 C218.2 135.5 218.9 138.2 219.6 141.0 C220.2 143.7 220.9 146.6 221.4 149.6 C222.0 152.6 222.5 155.8 223.0 159.0 C223.5 162.2 223.9 165.5 224.3 168.9 C224.7 172.3 225.0 175.7 225.3 179.3 C225.6 182.9 225.8 186.5 226.0 190.2 C226.2 194.0 226.3 197.8 226.4 201.6 C226.5 205.5 226.5 209.4 226.5 213.4 C226.5 217.4 226.4 221.4 226.3 225.5 C226.2 229.6 226.0 233.7 225.8 237.8 C225.6 242.0 225.3 246.2 225.0 250.4 C224.6 254.6 224.3 258.9 223.8 263.1 C223.4 267.4 222.9 271.7 222.4 275.9 C221.9 280.2 221.3 284.5 220.7 288.7 C220.1 293.0 219.4 297.3 218.7 301.5 C218.0 305.8 217.3 310.0 216.5 314.2 C215.7 318.4 214.8 322.6 214.0 326.7 C213.1 330.9 212.2 335.0 211.2 339.0 C210.2 343.1 209.2 347.1 208.2 351.0 C207.2 355.0 206.1 358.8 205.0 362.7 C203.9 366.5 202.8 370.3 201.6 373.9 C200.4 377.6 199.2 381.2 198.0 384.7 C196.8 388.3 195.5 391.7 194.2 395.0 C193.0 398.4 191.7 401.6 190.3 404.8 C189.0 407.9 187.6 411.0 186.3 413.9 C184.9 416.8 183.5 419.7 182.1 422.4 C180.7 425.1 179.3 427.7 177.9 430.2 C176.5 432.7 175.0 435.0 173.6 437.2 C172.1 439.5 170.7 441.6 169.2 443.5 C167.7 445.5 166.3 447.3 164.8 449.0 C163.3 450.7 161.9 452.3 160.4 453.7 C158.9 455.2 157.5 456.4 156.0 457.6 C154.6 458.7 153.1 459.7 151.7 460.5 C150.2 461.4 148.8 462.1 147.4 462.6 C146.0 463.2 144.6 463.6 143.2 463.9 C141.8 464.1 140.4 464.2 139.1 464.2 C137.7 464.1 136.4 463.9 135.1 463.6 C133.8 463.3 131.3 462.3 131.2 462.1 C131.1 461.9 134.7 462.8 134.4 462.5 Z" />
<path class="k" stroke-width="3.0" d="M150.5 81.7 C159.9 82.1 170.8 84.2 178.6 88.1 C186.4 92.0 192.4 99.1 197.6 105.2 C202.8 111.3 205.8 116.0 209.8 124.6 C213.9 133.2 219.2 146.4 221.9 156.9 C224.6 167.4 225.0 178.2 225.8 187.6 C226.6 197.0 226.7 200.2 226.5 213.1 C226.3 226.0 225.5 250.8 224.5 265.0 C223.5 279.2 222.4 286.4 220.7 298.3 C219.0 310.2 217.1 323.8 214.3 336.5 C211.5 349.2 208.3 362.6 204.1 374.8 C199.9 387.0 194.1 399.4 189.2 409.6 C184.2 419.8 179.6 427.9 174.4 435.9 C169.2 443.8 163.5 451.5 158.0 457.3 C152.5 463.1 147.5 466.6 141.5 470.5 C135.5 474.4 128.4 478.1 121.8 480.4 C115.2 482.7 108.6 484.5 102.0 484.5 C95.4 484.5 89.1 483.3 82.3 480.4 C75.5 477.5 67.5 472.4 60.9 467.2 C54.3 462.0 48.0 456.0 42.8 449.1 C37.6 442.2 33.2 433.5 29.6 426.1 C26.0 418.7 23.4 412.4 21.4 404.7 C19.3 397.0 18.2 391.4 17.3 380.0 C16.4 368.6 15.8 350.1 15.8 336.5 C15.8 322.9 16.3 310.2 17.3 298.3 C18.3 286.4 20.3 274.1 21.7 265.0 C23.1 255.9 23.2 254.0 25.5 243.7 C27.8 233.3 31.9 215.7 35.7 202.9 C39.5 190.1 43.8 178.2 48.5 167.1 C53.2 156.0 58.3 145.4 63.8 136.5 C69.3 127.6 75.2 120.4 81.6 113.6 C88.0 106.8 95.2 100.4 102.0 95.7 C108.8 91.0 114.3 87.8 122.4 85.5 C130.5 83.2 141.1 81.3 150.5 81.7 Z" />
<path class="b" stroke-width="1.0" d="M150.5 82.5 C151.8 82.0 165.2 83.8 172.0 86.5 C178.8 89.2 185.8 94.4 191.0 99.0 C196.2 103.6 199.8 107.8 203.5 114.0 C207.2 120.2 212.6 135.0 213.0 136.0 C213.4 137.0 209.0 124.9 206.0 120.0 C203.0 115.1 199.2 110.4 195.0 106.5 C190.8 102.6 186.2 99.3 181.0 96.5 C175.8 93.7 169.1 91.8 164.0 89.5 C158.9 87.2 149.2 83.0 150.5 82.5 Z" />
<defs><clipPath id="hcl"><ellipse cx="155.4" cy="286.3" rx="40.5" ry="136.9" transform="rotate(8.6 155.4 286.3)"/></clipPath></defs>
<ellipse class="w" stroke-width="2.2" cx="155.4" cy="286.3" rx="40.5" ry="136.9" transform="rotate(8.60 155.4 286.3)" />
<g clip-path="url(#hcl)">
<path class="k" stroke-width="3.2" d="M122.4 149.9 C122.8 150.1 124.2 150.3 125.1 150.7 C126.0 151.1 126.9 151.5 127.7 152.1 C128.6 152.7 129.4 153.4 130.2 154.2 C131.1 154.9 131.9 155.8 132.6 156.9 C133.4 157.9 134.1 159.0 134.8 160.2 C135.5 161.4 136.2 162.7 136.9 164.1 C137.5 165.5 138.2 167.0 138.8 168.6 C139.4 170.2 139.9 171.9 140.5 173.7 C141.0 175.5 141.5 177.4 142.0 179.4 C142.5 181.3 142.9 183.4 143.3 185.5 C143.7 187.6 144.1 189.8 144.4 192.1 C144.8 194.4 145.1 196.8 145.4 199.2 C145.6 201.7 145.9 204.2 146.1 206.7 C146.3 209.3 146.4 211.9 146.5 214.6 C146.7 217.3 146.8 220.1 146.8 222.9 C146.9 225.7 146.9 228.5 146.9 231.4 C146.8 234.3 146.8 237.2 146.7 240.2 C146.6 243.2 146.5 246.2 146.3 249.2 C146.1 252.3 145.9 255.3 145.7 258.4 C145.5 261.5 145.2 264.6 144.9 267.8 C144.6 270.9 144.2 274.0 143.9 277.2 C143.5 280.3 143.1 283.5 142.6 286.6 C142.2 289.8 141.7 292.9 141.2 296.1 C140.7 299.2 140.2 302.4 139.6 305.5 C139.0 308.6 138.4 311.7 137.8 314.8 C137.2 317.8 136.5 320.9 135.8 323.9 C135.1 326.9 134.4 329.9 133.7 332.9 C132.9 335.8 132.2 338.8 131.4 341.6 C130.6 344.5 129.8 347.3 128.9 350.1 C128.1 352.8 127.2 355.6 126.3 358.2 C125.5 360.9 124.6 363.5 123.7 366.0 C122.7 368.5 121.8 371.0 120.9 373.4 C119.9 375.8 118.9 378.1 118.0 380.4 C117.0 382.6 116.0 384.8 115.0 386.9 C114.0 389.0 113.0 391.0 112.0 392.9 C110.9 394.8 109.9 396.6 108.9 398.4 C107.8 400.1 106.8 401.8 105.8 403.3 C104.7 404.9 103.7 406.3 102.6 407.7 C101.6 409.0 100.5 410.3 99.5 411.4 C98.4 412.6 97.4 413.6 96.4 414.6 C95.3 415.5 94.3 416.4 93.3 417.1 C92.2 417.8 91.2 418.4 90.2 419.0 C89.2 419.5 88.2 419.9 87.2 420.2 C86.2 420.5 85.2 420.7 84.3 420.8 C83.3 420.8 81.9 420.7 81.4 420.7"/>
<path class="k" stroke-width="3.2" d="M113.4 149.9 C113.8 150.1 115.2 150.3 116.1 150.7 C117.0 151.1 117.9 151.5 118.7 152.1 C119.6 152.7 120.4 153.4 121.2 154.2 C122.1 154.9 122.9 155.8 123.6 156.9 C124.4 157.9 125.1 159.0 125.8 160.2 C126.5 161.4 127.2 162.7 127.9 164.1 C128.5 165.5 129.2 167.0 129.8 168.6 C130.4 170.2 130.9 171.9 131.5 173.7 C132.0 175.5 132.5 177.4 133.0 179.4 C133.5 181.3 133.9 183.4 134.3 185.5 C134.7 187.6 135.1 189.8 135.4 192.1 C135.8 194.4 136.1 196.8 136.4 199.2 C136.6 201.7 136.9 204.2 137.1 206.7 C137.3 209.3 137.4 211.9 137.5 214.6 C137.7 217.3 137.8 220.1 137.8 222.9 C137.9 225.7 137.9 228.5 137.9 231.4 C137.8 234.3 137.8 237.2 137.7 240.2 C137.6 243.2 137.5 246.2 137.3 249.2 C137.1 252.3 136.9 255.3 136.7 258.4 C136.5 261.5 136.2 264.6 135.9 267.8 C135.6 270.9 135.2 274.0 134.9 277.2 C134.5 280.3 134.1 283.5 133.6 286.6 C133.2 289.8 132.7 292.9 132.2 296.1 C131.7 299.2 131.2 302.4 130.6 305.5 C130.0 308.6 129.4 311.7 128.8 314.8 C128.2 317.8 127.5 320.9 126.8 323.9 C126.1 326.9 125.4 329.9 124.7 332.9 C123.9 335.8 123.2 338.8 122.4 341.6 C121.6 344.5 120.8 347.3 119.9 350.1 C119.1 352.8 118.2 355.6 117.3 358.2 C116.5 360.9 115.6 363.5 114.7 366.0 C113.7 368.5 112.8 371.0 111.9 373.4 C110.9 375.8 109.9 378.1 109.0 380.4 C108.0 382.6 107.0 384.8 106.0 386.9 C105.0 389.0 104.0 391.0 103.0 392.9 C101.9 394.8 100.9 396.6 99.9 398.4 C98.8 400.1 97.8 401.8 96.8 403.3 C95.7 404.9 94.7 406.3 93.6 407.7 C92.6 409.0 91.5 410.3 90.5 411.4 C89.4 412.6 88.4 413.6 87.4 414.6 C86.3 415.5 85.3 416.4 84.3 417.1 C83.2 417.8 82.2 418.4 81.2 419.0 C80.2 419.5 79.2 419.9 78.2 420.2 C77.2 420.5 76.2 420.7 75.3 420.8 C74.3 420.8 72.9 420.7 72.4 420.7"/>
<path class="k" stroke-width="1.9" d="M105.9 149.9 C106.3 150.1 107.7 150.3 108.6 150.7 C109.5 151.1 110.4 151.5 111.2 152.1 C112.1 152.7 112.9 153.4 113.7 154.2 C114.6 154.9 115.4 155.8 116.1 156.9 C116.9 157.9 117.6 159.0 118.3 160.2 C119.0 161.4 119.7 162.7 120.4 164.1 C121.0 165.5 121.7 167.0 122.3 168.6 C122.9 170.2 123.4 171.9 124.0 173.7 C124.5 175.5 125.0 177.4 125.5 179.4 C126.0 181.3 126.4 183.4 126.8 185.5 C127.2 187.6 127.6 189.8 127.9 192.1 C128.3 194.4 128.6 196.8 128.9 199.2 C129.1 201.7 129.4 204.2 129.6 206.7 C129.8 209.3 129.9 211.9 130.0 214.6 C130.2 217.3 130.3 220.1 130.3 222.9 C130.4 225.7 130.4 228.5 130.4 231.4 C130.3 234.3 130.3 237.2 130.2 240.2 C130.1 243.2 130.0 246.2 129.8 249.2 C129.6 252.3 129.4 255.3 129.2 258.4 C129.0 261.5 128.7 264.6 128.4 267.8 C128.1 270.9 127.7 274.0 127.4 277.2 C127.0 280.3 126.6 283.5 126.1 286.6 C125.7 289.8 125.2 292.9 124.7 296.1 C124.2 299.2 123.7 302.4 123.1 305.5 C122.5 308.6 121.9 311.7 121.3 314.8 C120.7 317.8 120.0 320.9 119.3 323.9 C118.6 326.9 117.9 329.9 117.2 332.9 C116.4 335.8 115.7 338.8 114.9 341.6 C114.1 344.5 113.3 347.3 112.4 350.1 C111.6 352.8 110.7 355.6 109.8 358.2 C109.0 360.9 108.1 363.5 107.2 366.0 C106.2 368.5 105.3 371.0 104.4 373.4 C103.4 375.8 102.4 378.1 101.5 380.4 C100.5 382.6 99.5 384.8 98.5 386.9 C97.5 389.0 96.5 391.0 95.5 392.9 C94.4 394.8 93.4 396.6 92.4 398.4 C91.3 400.1 90.3 401.8 89.3 403.3 C88.2 404.9 87.2 406.3 86.1 407.7 C85.1 409.0 84.0 410.3 83.0 411.4 C81.9 412.6 80.9 413.6 79.9 414.6 C78.8 415.5 77.8 416.4 76.8 417.1 C75.7 417.8 74.7 418.4 73.7 419.0 C72.7 419.5 71.7 419.9 70.7 420.2 C69.7 420.5 68.7 420.7 67.8 420.8 C66.8 420.8 65.4 420.7 64.9 420.7"/>
<path class="k" stroke-width="1.6" d="M97.9 149.9 C98.3 150.1 99.7 150.3 100.6 150.7 C101.5 151.1 102.4 151.5 103.2 152.1 C104.1 152.7 104.9 153.4 105.7 154.2 C106.6 154.9 107.4 155.8 108.1 156.9 C108.9 157.9 109.6 159.0 110.3 160.2 C111.0 161.4 111.7 162.7 112.4 164.1 C113.0 165.5 113.7 167.0 114.3 168.6 C114.9 170.2 115.4 171.9 116.0 173.7 C116.5 175.5 117.0 177.4 117.5 179.4 C118.0 181.3 118.4 183.4 118.8 185.5 C119.2 187.6 119.6 189.8 119.9 192.1 C120.3 194.4 120.6 196.8 120.9 199.2 C121.1 201.7 121.4 204.2 121.6 206.7 C121.8 209.3 121.9 211.9 122.0 214.6 C122.2 217.3 122.3 220.1 122.3 222.9 C122.4 225.7 122.4 228.5 122.4 231.4 C122.3 234.3 122.3 237.2 122.2 240.2 C122.1 243.2 122.0 246.2 121.8 249.2 C121.6 252.3 121.4 255.3 121.2 258.4 C121.0 261.5 120.7 264.6 120.4 267.8 C120.1 270.9 119.7 274.0 119.4 277.2 C119.0 280.3 118.6 283.5 118.1 286.6 C117.7 289.8 117.2 292.9 116.7 296.1 C116.2 299.2 115.7 302.4 115.1 305.5 C114.5 308.6 113.9 311.7 113.3 314.8 C112.7 317.8 112.0 320.9 111.3 323.9 C110.6 326.9 109.9 329.9 109.2 332.9 C108.4 335.8 107.7 338.8 106.9 341.6 C106.1 344.5 105.3 347.3 104.4 350.1 C103.6 352.8 102.7 355.6 101.8 358.2 C101.0 360.9 100.1 363.5 99.2 366.0 C98.2 368.5 97.3 371.0 96.4 373.4 C95.4 375.8 94.4 378.1 93.5 380.4 C92.5 382.6 91.5 384.8 90.5 386.9 C89.5 389.0 88.5 391.0 87.5 392.9 C86.4 394.8 85.4 396.6 84.4 398.4 C83.3 400.1 82.3 401.8 81.3 403.3 C80.2 404.9 79.2 406.3 78.1 407.7 C77.1 409.0 76.0 410.3 75.0 411.4 C73.9 412.6 72.9 413.6 71.9 414.6 C70.8 415.5 69.8 416.4 68.8 417.1 C67.7 417.8 66.7 418.4 65.7 419.0 C64.7 419.5 63.7 419.9 62.7 420.2 C61.7 420.5 60.7 420.7 59.8 420.8 C58.8 420.8 57.4 420.7 56.9 420.7"/>
</g>
<path class="k" stroke-width="1.7" d="M157.0 405.2 C156.5 405.8 155.1 407.7 154.1 408.9 C153.1 410.0 152.2 411.0 151.2 412.0 C150.3 412.9 149.3 413.7 148.4 414.4 C147.5 415.2 146.5 415.8 145.6 416.3 C144.7 416.8 143.8 417.2 142.9 417.5 C142.0 417.8 141.1 418.0 140.2 418.1 C139.3 418.2 138.4 418.1 137.6 418.0 C136.8 417.9 135.9 417.6 135.1 417.3 C134.3 416.9 133.5 416.5 132.7 415.9 C132.0 415.3 131.2 414.7 130.5 413.9 C129.8 413.1 129.1 412.2 128.4 411.2 C127.7 410.3 127.0 409.2 126.4 408.0 C125.8 406.8 125.2 405.5 124.6 404.2 C124.0 402.8 123.4 401.3 122.9 399.7 C122.4 398.2 121.9 396.5 121.4 394.7 C121.0 393.0 120.5 391.1 120.1 389.2 C119.7 387.3 119.3 385.3 119.0 383.2 C118.7 381.1 118.3 378.9 118.1 376.7 C117.8 374.5 117.5 372.1 117.3 369.8 C117.1 367.4 116.9 364.9 116.8 362.4 C116.6 359.9 116.5 357.3 116.4 354.7 C116.4 352.0 116.3 349.3 116.3 346.6 C116.3 343.9 116.3 341.1 116.4 338.2 C116.4 335.4 116.5 332.5 116.6 329.6 C116.7 326.7 116.9 323.8 117.1 320.8 C117.3 317.8 117.5 314.8 117.8 311.8 C118.0 308.8 118.3 305.7 118.6 302.7 C118.9 299.6 119.3 296.5 119.7 293.5 C120.1 290.4 120.5 287.3 120.9 284.2 C121.4 281.2 121.8 278.1 122.3 275.0 C122.8 271.9 123.4 268.9 123.9 265.8 C124.5 262.8 125.1 259.8 125.7 256.8 C126.3 253.8 126.9 250.8 127.6 247.8 C128.3 244.9 128.9 242.0 129.7 239.1 C130.4 236.2 131.1 233.4 131.9 230.6 C132.6 227.8 133.4 225.0 134.2 222.3 C135.0 219.7 135.8 217.0 136.6 214.4 C137.5 211.8 138.3 209.3 139.2 206.9 C140.0 204.4 140.9 202.0 141.8 199.7 C142.7 197.4 143.6 195.1 144.5 192.9 C145.4 190.8 146.4 188.7 147.3 186.6 C148.2 184.6 149.2 182.7 150.1 180.8 C151.1 179.0 152.0 177.2 153.0 175.6 C154.0 173.9 154.9 172.3 155.9 170.8 C156.8 169.3 157.8 167.9 158.8 166.7 C159.7 165.4 160.7 164.2 161.7 163.1 C162.6 162.0 163.6 161.0 164.5 160.1 C165.5 159.2 166.4 158.4 167.4 157.7 C168.3 157.1 169.2 156.5 170.2 156.0 C171.1 155.5 172.0 155.2 172.9 154.9 C173.8 154.7 174.7 154.5 175.5 154.5 C176.4 154.5 177.3 154.5 178.1 154.7 C178.9 154.9 179.8 155.2 180.6 155.6 C181.4 156.0 182.2 156.5 182.9 157.1 C183.7 157.7 184.4 158.4 185.1 159.2 C185.9 160.0 186.9 161.5 187.2 162.0"/>
<path class="k" stroke-width="3.6" d="M188.0 174.5 C188.2 175.3 188.9 177.7 189.4 179.4 C189.8 181.1 190.2 183.0 190.6 184.9 C191.0 186.8 191.3 188.8 191.7 190.8 C192.0 192.9 192.3 195.1 192.5 197.3 C192.8 199.5 193.0 201.8 193.2 204.2 C193.4 206.6 193.5 209.0 193.7 211.5 C193.8 214.0 193.9 216.6 194.0 219.2 C194.0 221.8 194.0 224.5 194.0 227.2 C194.0 230.0 194.0 232.7 193.9 235.6 C193.8 238.4 193.7 241.2 193.6 244.1 C193.5 247.0 193.3 250.0 193.1 252.9 C192.9 255.9 192.7 258.9 192.4 261.9 C192.1 264.9 191.8 268.0 191.5 271.0 C191.2 274.0 190.8 277.1 190.4 280.2 C190.0 283.2 189.6 286.3 189.2 289.4 C188.7 292.4 188.2 295.5 187.7 298.6 C187.2 301.6 186.7 304.7 186.1 307.7 C185.6 310.7 185.0 313.7 184.4 316.7 C183.8 319.7 183.1 322.7 182.5 325.6 C181.8 328.5 181.1 331.4 180.4 334.3 C179.7 337.1 179.0 339.9 178.3 342.7 C177.5 345.5 176.7 348.2 176.0 350.8 C175.2 353.5 174.4 356.1 173.6 358.7 C172.7 361.2 171.9 363.7 171.1 366.1 C170.2 368.6 169.4 370.9 168.5 373.2 C167.6 375.5 166.7 377.7 165.8 379.8 C164.9 382.0 164.0 384.0 163.1 386.0 C162.2 388.0 161.3 389.9 160.4 391.7 C159.5 393.5 158.5 395.2 157.6 396.8 C156.7 398.4 155.7 400.0 154.8 401.4 C153.9 402.8 152.9 404.2 152.0 405.4 C151.1 406.6 149.7 408.2 149.2 408.8"/>
<path class="k" stroke-width="3.8" d="M196.8 186.5 C197.0 187.6 197.6 190.9 198.0 193.3 C198.3 195.6 198.6 198.1 198.9 200.6 C199.2 203.1 199.4 205.6 199.6 208.3 C199.8 210.9 200.0 213.6 200.1 216.4 C200.2 219.1 200.3 221.9 200.3 224.8 C200.4 227.7 200.4 230.6 200.4 233.6 C200.3 236.6 200.3 239.6 200.2 242.6 C200.0 245.7 199.9 248.8 199.7 251.9 C199.5 255.0 199.3 258.2 199.1 261.3 C198.8 264.5 198.5 267.7 198.2 270.9 C197.8 274.1 197.5 277.3 197.1 280.5 C196.7 283.8 196.2 287.0 195.8 290.2 C195.3 293.4 194.8 296.7 194.2 299.9 C193.7 303.1 193.1 306.3 192.5 309.4 C191.9 312.6 191.3 315.8 190.6 318.9 C190.0 322.0 189.3 325.1 188.5 328.2 C187.8 331.3 187.1 334.3 186.3 337.3 C185.5 340.3 184.7 343.2 183.9 346.1 C183.0 349.0 182.2 351.9 181.3 354.6 C180.4 357.4 179.5 360.2 178.6 362.8 C177.7 365.5 176.8 368.1 175.8 370.6 C174.9 373.1 173.9 375.6 172.9 377.9 C171.9 380.3 170.9 382.6 169.9 384.8 C168.9 387.0 167.9 389.2 166.8 391.2 C165.8 393.3 164.8 395.2 163.7 397.1 C162.7 398.9 161.6 400.7 160.5 402.4 C159.5 404.0 158.4 405.6 157.3 407.0 C156.3 408.5 155.2 409.9 154.1 411.1 C153.1 412.4 152.0 413.5 150.9 414.6 C149.9 415.6 148.8 416.5 147.7 417.4 C146.7 418.2 145.6 418.9 144.6 419.5 C143.6 420.1 142.5 420.6 141.5 420.9 C140.5 421.3 139.0 421.5 138.5 421.7"/>
<path class="k" stroke-width="2.3" d="M166.5 162.9 C166.8 162.7 167.7 161.7 168.2 161.3 C168.8 160.9 169.4 160.5 169.9 160.3 C170.5 160.1 171.0 159.9 171.5 159.9 C172.0 159.9 172.5 160.0 173.0 160.2 C173.5 160.3 173.9 160.6 174.4 161.0 C174.8 161.4 175.3 161.9 175.7 162.5 C176.1 163.1 176.5 163.8 176.9 164.7 C177.2 165.5 177.6 166.4 177.9 167.4 C178.2 168.4 178.6 169.5 178.9 170.7 C179.1 171.9 179.4 173.2 179.7 174.6 C179.9 176.0 180.1 177.5 180.3 179.0 C180.5 180.6 180.7 182.3 180.9 184.0 C181.0 185.8 181.2 187.6 181.3 189.5 C181.4 191.5 181.5 193.5 181.5 195.5 C181.6 197.6 181.6 199.7 181.6 202.0 C181.7 204.2 181.7 206.5 181.6 208.8 C181.6 211.2 181.5 213.6 181.5 216.1 C181.4 218.5 181.3 221.1 181.2 223.7 C181.0 226.3 180.9 228.9 180.7 231.6 C180.5 234.3 180.3 237.0 180.1 239.8 C179.9 242.5 179.7 245.4 179.4 248.2 C179.1 251.0 178.9 253.9 178.5 256.8 C178.2 259.7 177.9 262.6 177.6 265.6 C177.2 268.5 176.9 271.5 176.5 274.5 C176.1 277.4 175.7 280.4 175.3 283.4 C174.8 286.4 174.4 289.4 173.9 292.3 C173.5 295.3 173.0 298.3 172.5 301.3 C172.0 304.2 171.5 307.2 171.0 310.1 C170.5 313.1 169.9 316.0 169.4 318.9 C168.8 321.8 168.2 324.6 167.7 327.5 C167.1 330.3 166.5 333.1 165.9 335.8 C165.3 338.6 164.7 341.3 164.1 344.0 C163.4 346.6 162.8 349.3 162.2 351.8 C161.5 354.4 160.9 356.9 160.2 359.4 C159.6 361.8 158.9 364.2 158.3 366.5 C157.6 368.9 156.9 371.1 156.3 373.3 C155.6 375.5 154.9 377.6 154.3 379.7 C153.6 381.7 152.9 383.7 152.2 385.6 C151.6 387.5 150.9 389.3 150.2 391.0 C149.6 392.7 148.9 394.3 148.2 395.9 C147.6 397.4 146.9 398.9 146.2 400.2 C145.6 401.6 144.9 402.8 144.3 404.0 C143.7 405.2 143.0 406.2 142.4 407.2 C141.8 408.2 141.2 409.0 140.6 409.8 C139.9 410.6 139.4 411.2 138.8 411.8 C138.2 412.4 137.6 412.8 137.1 413.2 C136.5 413.5 135.9 413.8 135.4 413.9 C134.9 414.1 134.4 414.1 133.9 414.1 C133.4 414.0 132.9 413.8 132.4 413.6 C131.9 413.3 131.5 412.9 131.1 412.4 C130.6 411.9 130.2 411.4 129.8 410.7 C129.4 410.0 129.0 409.2 128.7 408.3 C128.3 407.4 128.0 406.4 127.7 405.3 C127.4 404.2 126.9 402.4 126.8 401.8"/>
<!-- p_wheel -->
<ellipse class="w" stroke-width="3.0" cx="374.0" cy="321.5" rx="43.5" ry="137.0" transform="rotate(8.50 374.0 321.5)" />
<path class="w" stroke-width="0" d="M399.0 189.0 L419.0 207.5 L440.0 325.0 L385.0 441.5 L362.0 455.0 L378.0 322.0 Z" style="stroke:none"/>
<path class="k" stroke-width="2.9" d="M364.4 448.2 C363.9 448.4 362.5 449.1 361.6 449.4 C360.7 449.7 359.8 449.9 358.9 450.0 C358.0 450.0 357.1 450.0 356.3 449.9 C355.4 449.7 354.6 449.5 353.8 449.1 C352.9 448.8 352.1 448.3 351.3 447.8 C350.6 447.2 349.8 446.6 349.0 445.8 C348.3 445.0 347.6 444.2 346.9 443.2 C346.2 442.3 345.5 441.2 344.8 440.0 C344.2 438.9 343.6 437.6 343.0 436.2 C342.4 434.9 341.8 433.4 341.3 431.9 C340.7 430.3 340.2 428.7 339.7 427.0 C339.2 425.3 338.8 423.4 338.4 421.6 C337.9 419.7 337.5 417.7 337.2 415.6 C336.8 413.6 336.5 411.5 336.2 409.3 C335.9 407.1 335.6 404.8 335.4 402.4 C335.2 400.1 335.0 397.7 334.8 395.2 C334.6 392.8 334.5 390.2 334.4 387.6 C334.3 385.1 334.2 382.4 334.2 379.7 C334.2 377.0 334.2 374.3 334.2 371.5 C334.3 368.8 334.4 365.9 334.5 363.1 C334.6 360.2 334.7 357.3 334.9 354.4 C335.1 351.5 335.3 348.6 335.5 345.6 C335.8 342.7 336.0 339.7 336.3 336.7 C336.6 333.7 337.0 330.7 337.4 327.7 C337.7 324.7 338.1 321.7 338.6 318.7 C339.0 315.6 339.5 312.6 340.0 309.6 C340.5 306.6 341.0 303.6 341.5 300.7 C342.1 297.7 342.7 294.8 343.3 291.8 C343.9 288.9 344.5 286.0 345.2 283.1 C345.8 280.3 346.5 277.4 347.2 274.6 C347.9 271.8 348.7 269.0 349.4 266.3 C350.2 263.6 350.9 260.9 351.7 258.3 C352.5 255.7 353.3 253.1 354.2 250.6 C355.0 248.1 355.8 245.7 356.7 243.3 C357.6 240.9 358.4 238.6 359.3 236.4 C360.2 234.1 361.1 231.9 362.1 229.8 C363.0 227.8 363.9 225.7 364.8 223.8 C365.8 221.8 366.7 220.0 367.7 218.2 C368.6 216.4 369.6 214.7 370.5 213.2 C371.5 211.6 372.5 210.0 373.4 208.6 C374.4 207.2 375.4 205.9 376.4 204.7 C377.3 203.4 378.3 202.3 379.3 201.3 C380.2 200.3 381.2 199.3 382.2 198.5 C383.1 197.7 384.1 197.0 385.0 196.3 C385.9 195.7 386.9 195.2 387.8 194.8 C388.7 194.4 389.7 194.1 390.6 193.9 C391.5 193.7 392.4 193.6 393.2 193.6 C394.1 193.6 395.0 193.7 395.8 194.0 C396.7 194.2 397.5 194.5 398.3 195.0 C399.1 195.4 399.9 195.9 400.7 196.6 C401.4 197.2 402.2 198.0 402.9 198.8 C403.6 199.7 404.7 201.2 405.0 201.7"/>
<path class="k" stroke-width="5.4" d="M360.1 442.0 C359.8 441.9 358.8 441.7 358.2 441.4 C357.5 441.1 356.9 440.7 356.3 440.2 C355.7 439.7 355.1 439.1 354.6 438.4 C354.0 437.7 353.5 436.9 352.9 436.0 C352.4 435.1 351.9 434.1 351.4 433.1 C351.0 432.0 350.5 430.8 350.1 429.6 C349.6 428.3 349.2 426.9 348.8 425.5 C348.5 424.1 348.1 422.6 347.8 421.0 C347.4 419.4 347.1 417.7 346.8 415.9 C346.6 414.1 346.3 412.3 346.1 410.4 C345.8 408.5 345.6 406.5 345.5 404.4 C345.3 402.3 345.1 400.2 345.0 398.0 C344.9 395.8 344.8 393.6 344.7 391.2 C344.7 388.9 344.6 386.6 344.6 384.1 C344.6 381.7 344.6 379.2 344.7 376.7 C344.7 374.2 344.8 371.6 344.9 369.0 C345.0 366.4 345.1 363.8 345.3 361.1 C345.4 358.4 345.6 355.7 345.8 353.0 C346.1 350.2 346.3 347.5 346.6 344.7 C346.8 341.9 347.1 339.1 347.4 336.3 C347.7 333.5 348.1 330.6 348.5 327.8 C348.8 325.0 349.2 322.2 349.6 319.3 C350.0 316.5 350.5 313.7 350.9 310.9 C351.4 308.0 351.9 305.2 352.4 302.4 C352.9 299.6 353.4 296.9 354.0 294.1 C354.5 291.4 355.1 288.6 355.7 285.9 C356.3 283.2 356.9 280.6 357.5 277.9 C358.1 275.3 358.8 272.7 359.4 270.2 C360.1 267.6 360.7 265.1 361.4 262.7 C362.1 260.2 362.8 257.8 363.5 255.5 C364.2 253.1 365.0 250.8 365.7 248.6 C366.4 246.4 367.2 244.2 367.9 242.1 C368.7 240.0 369.4 237.9 370.2 236.0 C371.0 234.0 371.8 232.1 372.5 230.3 C373.3 228.5 374.1 226.8 374.9 225.1 C375.7 223.5 376.5 221.9 377.2 220.4 C378.0 218.9 378.8 217.5 379.6 216.2 C380.4 214.9 381.2 213.7 382.0 212.5 C382.7 211.4 383.5 210.4 384.3 209.4 C385.1 208.5 385.8 207.6 386.6 206.9 C387.4 206.1 388.1 205.5 388.9 204.9 C389.6 204.3 390.4 203.9 391.1 203.5 C391.8 203.2 392.5 202.9 393.2 202.7 C393.9 202.6 394.6 202.5 395.3 202.6 C396.0 202.6 396.6 202.7 397.3 203.0 C397.9 203.2 398.5 203.6 399.2 204.0 C399.8 204.5 400.6 205.4 400.9 205.6"/>
<path class="k" stroke-width="2.2" d="M397.5 188.3 C398.6 189.1 401.8 190.9 404.0 193.0 C406.2 195.1 408.6 198.6 411.0 201.0 C413.4 203.4 417.2 206.4 418.5 207.5" />
<path class="k" stroke-width="2.0" d="M353.8 455.3 C354.9 455.5 358.2 456.8 360.6 456.3 C363.0 455.8 365.6 454.1 368.3 452.5 C371.0 450.9 374.3 448.8 377.0 447.0 C379.7 445.2 383.2 442.4 384.5 441.5" />
<path class="k" stroke-width="2.4" d="M331.2 402.2 l2 .5 M329.8 372.1 l2 .5 M331.4 338.5 l2 .5 M336.2 303.7 l2 .5 M343.6 270.1 l2 .5 M353.2 240.1 l2 .5 M364.4 215.6 l2 .5" />
<defs><clipPath id="fcl"><path d="M450.9 200.2 C453.6 200.3 456.1 200.9 458.4 202.4 C460.7 203.9 462.6 206.0 464.6 208.9 C466.5 211.8 468.3 215.3 470.0 219.7 C471.8 224.1 473.8 229.3 475.2 235.1 C476.6 240.8 477.6 247.8 478.4 254.2 C479.1 260.6 479.4 266.5 479.7 273.7 C479.9 280.8 480.0 289.1 479.7 297.0 C479.3 304.8 478.7 312.9 477.5 320.8 C476.3 328.7 474.5 336.5 472.6 344.1 C470.6 351.7 467.9 359.1 465.8 366.4 C463.6 373.7 461.6 381.6 459.5 387.8 C457.5 393.9 456.4 396.7 453.4 403.1 C450.4 409.5 445.5 419.5 441.6 426.3 C437.8 433.0 433.7 439.1 430.6 443.6 C427.5 448.1 425.4 450.4 423.0 453.3 C420.6 456.1 419.2 460.6 416.2 460.6 C413.2 460.6 409.0 458.3 404.9 453.3 C400.8 448.2 395.6 439.4 391.7 430.1 C387.8 420.9 383.9 409.3 381.7 397.8 C379.4 386.3 378.5 373.1 378.2 361.1 C377.8 349.2 378.0 338.2 379.6 326.1 C381.2 314.1 384.6 299.7 387.7 288.7 C390.8 277.7 394.5 269.7 398.1 260.2 C401.7 250.8 405.6 240.0 409.4 231.9 C413.1 223.7 416.9 215.7 420.7 211.2 C424.4 206.8 428.4 206.8 431.9 205.2 C435.5 203.6 438.9 202.4 442.0 201.5 C445.2 200.7 448.2 200.0 450.9 200.2 Z"/></clipPath></defs>
<path class="w" stroke-width="3.8" d="M451.5 196.4 C454.3 196.6 456.8 197.2 459.2 198.7 C461.6 200.2 463.6 202.4 465.6 205.4 C467.6 208.4 469.4 212.0 471.2 216.5 C473.0 221.0 475.1 226.4 476.5 232.3 C477.9 238.2 479.0 245.4 479.8 252.0 C480.6 258.6 480.9 264.7 481.1 272.0 C481.3 279.3 481.5 287.9 481.1 296.0 C480.7 304.1 480.1 312.4 478.9 320.5 C477.7 328.6 475.8 336.7 473.8 344.5 C471.8 352.3 469.0 359.9 466.8 367.4 C464.6 374.9 462.5 383.1 460.4 389.4 C458.3 395.7 457.2 398.6 454.1 405.2 C451.0 411.8 445.9 422.1 442.0 429.0 C438.1 435.9 433.8 442.2 430.6 446.8 C427.4 451.4 425.3 453.9 422.8 456.8 C420.3 459.7 418.9 464.3 415.8 464.3 C412.7 464.3 408.4 462.0 404.2 456.8 C400.0 451.6 394.6 442.5 390.6 433.0 C386.6 423.5 382.6 411.5 380.3 399.7 C378.0 387.9 377.1 374.3 376.7 362.0 C376.3 349.7 376.6 338.4 378.2 326.0 C379.8 313.6 383.3 298.8 386.5 287.5 C389.7 276.2 393.5 267.9 397.2 258.2 C400.9 248.4 404.9 237.4 408.8 229.0 C412.7 220.6 416.5 212.4 420.4 207.8 C424.3 203.2 428.3 203.3 432.0 201.6 C435.7 199.9 439.1 198.7 442.4 197.8 C445.6 196.9 448.7 196.2 451.5 196.4 Z" />
<g clip-path="url(#fcl)">
<path class="k" stroke-width="1.6" d="M450.4 205.8 C453.0 206.0 455.3 206.6 457.5 208.0 C459.7 209.4 461.6 211.4 463.5 214.2 C465.3 217.0 467.0 220.3 468.7 224.5 C470.4 228.7 472.3 233.7 473.6 239.2 C474.9 244.7 476.0 251.4 476.7 257.5 C477.4 263.7 477.7 269.3 477.9 276.1 C478.1 282.9 478.2 290.9 477.9 298.4 C477.5 306.0 477.0 313.7 475.8 321.2 C474.7 328.8 473.0 336.3 471.1 343.6 C469.2 350.8 466.7 357.9 464.6 364.9 C462.5 371.8 460.6 379.5 458.6 385.3 C456.7 391.2 455.6 393.9 452.8 400.0 C449.9 406.1 445.2 415.7 441.5 422.1 C437.9 428.6 433.9 434.4 430.9 438.7 C427.9 443.0 426.0 445.3 423.7 448.0 C421.4 450.7 420.0 455.0 417.2 455.0 C414.3 455.0 410.3 452.8 406.4 448.0 C402.5 443.1 397.4 434.7 393.7 425.9 C390.0 417.0 386.3 405.9 384.1 394.9 C382.0 383.9 381.1 371.3 380.8 359.8 C380.5 348.4 380.7 337.9 382.2 326.4 C383.7 314.8 387.0 301.1 389.9 290.5 C392.9 280.0 396.4 272.4 399.9 263.3 C403.3 254.2 407.1 244.0 410.6 236.1 C414.2 228.3 417.8 220.7 421.4 216.4 C425.0 212.2 428.8 212.2 432.2 210.7 C435.6 209.1 438.9 207.9 441.9 207.1 C444.9 206.3 447.8 205.7 450.4 205.8 Z" />
<path class="k" stroke-width="6.8" d="M417.5 460.5 C415.9 459.2 411.4 457.2 408.0 452.5 C404.6 447.8 400.1 440.8 397.0 432.0 C393.9 423.2 391.1 411.7 389.5 400.0 C387.9 388.3 387.3 373.7 387.2 362.0 C387.1 350.3 388.1 338.2 388.8 330.0 C389.5 321.8 389.8 320.2 391.5 313.0 C393.2 305.8 395.9 296.2 398.8 287.0 C401.7 277.8 405.4 267.7 409.0 258.0 C412.6 248.3 416.9 237.1 420.7 229.0 C424.4 220.9 429.7 212.8 431.5 209.5" />
<path class="k" stroke-width="2.6" d="M410.1 286.6 C411.2 280.8 414.3 261.4 416.7 251.8 C419.2 242.3 421.9 235.6 424.8 229.1 C427.7 222.7 432.6 215.7 434.1 213.1" />
<path class="k" stroke-width="1.8" d="M412.2 287.5 C413.3 281.7 416.4 262.4 418.9 252.8 C421.3 243.2 424.0 236.5 426.9 230.1 C429.8 223.6 434.7 216.7 436.3 214.0" />
<path class="k" stroke-width="2.6" d="M415.4 285.3 C416.5 279.7 419.4 261.4 422.1 251.8 C424.8 242.3 427.9 234.9 431.4 227.8 C435.0 220.7 441.5 212.2 443.5 209.1" />
<path class="k" stroke-width="1.8" d="M417.5 286.2 C418.7 280.6 421.6 262.4 424.2 252.8 C426.9 243.2 430.0 235.8 433.6 228.7 C437.1 221.6 443.6 213.1 445.6 210.0" />
<path class="k" stroke-width="2.6" d="M420.1 283.9 C421.5 278.1 425.8 258.5 428.8 249.2 C431.8 239.8 435.2 233.8 438.1 227.8 C441.0 221.8 444.9 217.1 446.1 213.1 C447.4 209.1 445.6 205.3 445.5 203.7" />
<path class="k" stroke-width="1.8" d="M422.2 284.9 C423.7 279.1 427.9 259.5 430.9 250.1 C433.9 240.7 437.4 234.7 440.3 228.7 C443.2 222.7 447.1 218.0 448.3 214.0 C449.5 210.0 447.7 206.2 447.6 204.7" />
<path class="k" stroke-width="2.6" d="M424.8 283.9 C426.3 278.1 430.6 259.0 434.1 249.2 C437.7 239.4 442.4 231.6 446.1 225.1 C449.9 218.6 455.1 212.9 456.8 210.4" />
<path class="k" stroke-width="1.8" d="M426.9 284.9 C428.5 279.1 432.7 259.9 436.3 250.1 C439.8 240.3 444.5 232.5 448.3 226.0 C452.1 219.6 457.2 213.8 459.0 211.3" />
<path class="k" stroke-width="2.6" d="M430.1 283.9 C431.7 279.0 435.7 263.7 439.5 254.5 C443.3 245.4 449.4 236.4 452.8 229.1 C456.3 221.9 459.0 214.1 460.2 211.1" />
<path class="k" stroke-width="1.8" d="M432.2 284.9 C433.8 280.0 437.8 264.6 441.6 255.5 C445.4 246.3 451.5 237.3 455.0 230.1 C458.4 222.8 461.1 215.0 462.3 212.0" />
<path class="k" stroke-width="2.6" d="M434.1 285.3 C435.7 280.6 439.7 265.0 443.5 257.2 C447.3 249.4 452.4 243.4 456.8 238.5 C461.3 233.6 468.0 229.6 470.2 227.8" />
<path class="k" stroke-width="2.6" d="M436.8 286.6 C438.6 282.6 443.7 269.2 447.5 262.5 C451.3 255.9 455.6 251.7 459.5 246.5 C463.4 241.3 469.0 233.7 470.9 231.1" />
<path class="k" stroke-width="1.8" d="M438.9 287.5 C440.7 283.5 445.8 270.2 449.6 263.5 C453.4 256.8 457.8 252.7 461.7 247.4 C465.6 242.2 471.1 234.6 473.0 232.1" />
<path class="k" stroke-width="2.6" d="M440.8 287.9 C442.8 285.3 448.8 275.7 452.8 271.9 C456.8 268.1 461.0 266.6 464.9 265.2 C468.8 263.9 474.3 264.1 476.2 263.9" />
<path class="k" stroke-width="2.6" d="M446.1 290.6 C448.4 288.6 455.5 281.7 459.5 278.6 C463.5 275.5 467.3 273.7 470.2 271.9 C473.1 270.1 475.8 268.6 476.9 267.9" />
<path class="k" stroke-width="1.8" d="M448.3 291.6 C450.5 289.5 457.6 282.6 461.7 279.5 C465.7 276.4 469.5 274.6 472.4 272.8 C475.2 271.1 477.9 269.5 479.0 268.8" />
<path class="k" stroke-width="2.6" d="M396.7 372.0 C396.5 376.7 395.0 390.5 395.4 400.1 C395.8 409.7 397.6 420.8 399.4 429.5 C401.2 438.2 405.0 448.5 406.1 452.2" />
<path class="k" stroke-width="1.8" d="M398.9 371.4 C398.7 376.0 397.1 389.9 397.5 399.4 C398.0 409.0 399.8 420.2 401.6 428.9 C403.3 437.5 407.1 447.8 408.2 451.6" />
<path class="k" stroke-width="2.6" d="M401.4 372.0 C401.3 376.7 400.2 391.0 400.7 400.1 C401.3 409.2 402.8 417.9 404.8 426.8 C406.8 435.8 411.4 449.1 412.8 453.6" />
<path class="k" stroke-width="1.8" d="M403.6 371.4 C403.4 376.0 402.3 390.3 402.9 399.4 C403.4 408.6 404.9 417.3 406.9 426.2 C408.9 435.1 413.6 448.5 414.9 452.9" />
<path class="k" stroke-width="2.6" d="M406.1 372.0 C406.1 376.7 405.2 391.0 406.1 400.1 C407.0 409.2 409.4 419.0 411.4 426.8 C413.4 434.6 416.6 442.0 418.1 446.9 C419.7 451.8 420.4 454.7 420.8 456.3" />
<path class="k" stroke-width="1.8" d="M408.2 371.4 C408.2 376.0 407.3 390.3 408.2 399.4 C409.1 408.6 411.6 418.4 413.6 426.2 C415.6 434.0 418.7 441.3 420.3 446.2 C421.8 451.1 422.5 454.0 422.9 455.6" />
<path class="k" stroke-width="2.6" d="M411.4 372.0 C411.7 376.7 411.7 392.1 412.8 400.1 C413.9 408.1 416.3 413.5 418.1 420.2 C419.9 426.8 422.6 434.6 423.5 440.2 C424.4 445.8 423.5 451.4 423.5 453.6" />
<path class="k" stroke-width="1.8" d="M413.6 371.4 C413.8 376.0 413.8 391.4 414.9 399.4 C416.0 407.5 418.5 412.8 420.3 419.5 C422.0 426.2 424.7 434.0 425.6 439.5 C426.5 445.1 425.6 450.7 425.6 452.9" />
<path class="k" stroke-width="2.6" d="M416.8 373.4 C417.5 377.8 418.8 392.8 420.8 400.1 C422.8 407.5 426.1 412.6 428.8 417.5 C431.5 422.4 435.1 426.2 436.8 429.5 C438.6 432.9 439.1 436.2 439.5 437.5" />
<path class="k" stroke-width="2.6" d="M422.1 373.4 C423.0 376.7 425.0 387.2 427.5 393.4 C429.9 399.7 434.7 403.9 436.8 410.8 C439.0 417.7 439.6 430.9 440.2 434.9" />
<path class="k" stroke-width="1.8" d="M424.3 372.7 C425.2 376.0 427.2 386.5 429.6 392.8 C432.1 399.0 436.9 403.2 439.0 410.1 C441.1 417.0 441.8 430.2 442.3 434.2" />
<path class="k" stroke-width="2.6" d="M426.1 373.4 C427.9 376.0 433.3 385.0 436.8 389.4 C440.4 393.9 444.6 397.0 447.5 400.1 C450.4 403.2 453.1 406.8 454.2 408.1" />
<path class="k" stroke-width="2.6" d="M432.8 374.7 C434.8 376.7 441.1 383.2 444.9 386.7 C448.7 390.3 453.8 394.5 455.6 396.1" />
<path class="k" stroke-width="1.8" d="M435.0 374.0 C437.0 376.0 443.2 382.5 447.0 386.1 C450.8 389.6 455.9 393.9 457.7 395.4" />
<path class="k" stroke-width="1.5" d="M454.2 223.8 L468.9 226.4 M458.2 249.2 L460.9 262.5 M460.9 258.5 L474.2 262.5 M446.1 203.7 L455.5 205.1 M450.2 372.0 L444.9 385.4 M439.5 405.5 L432.8 418.8 M439.5 408.1 L452.9 410.1 M420.8 438.9 L436.8 440.9" />
<ellipse cx="442.1" cy="237.8" rx="4" ry="2.2" fill="#000" transform="rotate(-25 442.1 237.8)"/>
<ellipse cx="444.1" cy="266.6" rx="5" ry="2.5" fill="#000" transform="rotate(-25 444.1 266.6)"/>
<ellipse cx="437.5" cy="271.9" rx="2.5" ry="2" fill="#000" transform="rotate(-25 437.5 271.9)"/>
<ellipse cx="425.5" cy="396.1" rx="4" ry="2.5" fill="#000" transform="rotate(-25 425.5 396.1)"/>
<ellipse cx="413.4" cy="422.2" rx="2.5" ry="3.5" fill="#000" transform="rotate(-25 413.4 422.2)"/>
</g>
<path class="w" stroke-width="2.0" d="M416.3 285.8 L454.2 295.3 L459.0 309.5 L460.5 333.2 L455.8 358.4 L443.2 371.8 L400.5 366.3 L398.9 358.4 L395.0 352.1 L397.4 344.2 L393.4 336.3 L396.6 328.4 L394.2 320.5 L399.7 314.2 L398.2 306.3 L405.3 301.6 L403.7 293.7 L411.6 292.1 Z" />
<ellipse class="w" stroke-width="2.4" cx="447.9" cy="333.2" rx="13.0" ry="39.5" transform="rotate(6.00 447.9 333.2)" />
<ellipse class="k" stroke-width="1.4" cx="447.3" cy="333.2" rx="10.3" ry="35.0" transform="rotate(6.00 447.3 333.2)" />
<ellipse class="b" stroke-width="1" cx="445.3" cy="334.2" rx="8.3" ry="23.0" transform="rotate(6.00 445.3 334.2)" />
<ellipse class="w" stroke-width="1" cx="447.7" cy="333.7" rx="3.6" ry="13.0" transform="rotate(6.00 447.7 333.7)" />
<path class="k" stroke-width="1.6" d="M444.0 306.3 L451.8 309.5 M442.4 356.1 L449.5 352.1" />
<path class="k" stroke-width="1.8" d="M462.1 303.9 C463.6 303.7 468.7 301.2 470.8 302.4 C472.9 303.6 475.7 309.2 474.7 311.1 C473.8 312.9 466.8 313.0 465.3 313.4 M463.7 317.4 L471.6 315.8 M459.0 349.7 C460.1 350.3 465.0 350.7 466.1 352.9 C467.1 355.1 467.2 361.2 465.3 363.2 C463.3 365.1 456.1 364.5 454.2 364.7 M457.4 358.4 L465.3 360.8" />
<!-- p_small -->
<ellipse class="w" stroke-width="3.4" cx="272.8" cy="304.0" rx="5.4" ry="10.6" transform="rotate(9.00 272.8 304.0)" />
<ellipse class="w" stroke-width="3.4" cx="277.8" cy="304.6" rx="5.2" ry="10.0" transform="rotate(9.00 277.8 304.6)" />
<ellipse class="b" stroke-width="1" cx="280.3" cy="305.0" rx="3.9" ry="8.2" transform="rotate(9.00 280.3 305.0)" />
<ellipse class="w" stroke-width="0.3" cx="280.8" cy="305.8" rx="0.6" ry="2.4" transform="rotate(9.00 280.8 305.8)" />
<ellipse class="w" stroke-width="3.4" cx="296.0" cy="308.0" rx="5.4" ry="10.6" transform="rotate(9.00 296.0 308.0)" />
<ellipse class="w" stroke-width="3.4" cx="301.0" cy="308.6" rx="5.2" ry="10.0" transform="rotate(9.00 301.0 308.6)" />
<ellipse class="b" stroke-width="1" cx="303.5" cy="309.0" rx="3.9" ry="8.2" transform="rotate(9.00 303.5 309.0)" />
<ellipse class="w" stroke-width="0.3" cx="304.0" cy="309.8" rx="0.6" ry="2.4" transform="rotate(9.00 304.0 309.8)" />
<ellipse class="w" stroke-width="2.6" cx="494.1" cy="339.3" rx="7.4" ry="15.8" transform="rotate(10.00 494.1 339.3)" />
<ellipse class="b" stroke-width="1" cx="495.9" cy="339.6" rx="5.0" ry="13.6" transform="rotate(10.00 495.9 339.6)" />
<ellipse class="w" stroke-width="0.3" cx="496.9" cy="339.8" rx="0.9" ry="6.4" transform="rotate(10.00 496.9 339.8)" />
<path class="w" stroke-width="2.6999999999999997" d="M534.6 360.8 C534.4 360.7 534.0 360.6 533.7 360.4 C533.5 360.2 533.3 359.9 533.0 359.6 C532.8 359.2 532.6 358.8 532.5 358.3 C532.3 357.9 532.1 357.3 532.0 356.7 C531.9 356.1 531.8 355.5 531.7 354.8 C531.7 354.1 531.6 353.3 531.6 352.5 C531.6 351.8 531.6 350.9 531.7 350.1 C531.7 349.3 531.8 348.4 531.9 347.5 C532.0 346.7 532.1 345.8 532.3 344.9 C532.4 344.1 532.6 343.2 532.8 342.3 C533.0 341.5 533.2 340.7 533.5 339.9 C533.7 339.1 534.0 338.3 534.3 337.6 C534.5 336.8 534.8 336.1 535.1 335.5 C535.4 334.9 535.7 334.3 536.1 333.8 C536.4 333.3 536.7 332.8 537.0 332.4 C537.3 332.0 537.7 331.7 538.0 331.4 C538.3 331.2 538.6 331.0 538.9 330.9 C539.3 330.8 539.7 330.8 539.8 330.8 L548.2 332.2 L543.0 362.2 Z" />
<ellipse class="b" stroke-width="2.6999999999999997" cx="545.6" cy="347.2" rx="5.0" ry="15.2" transform="rotate(10.00 545.6 347.2)" />
<ellipse class="w" stroke-width="0.3" cx="545.8" cy="347.4" rx="0.8" ry="4.6" transform="rotate(10.00 545.8 347.4)" />
<path class="w" stroke-width="2.6999999999999997" d="M690.6 384.2 C690.4 384.1 690.0 384.0 689.7 383.8 C689.5 383.6 689.3 383.3 689.0 383.0 C688.8 382.6 688.6 382.2 688.5 381.7 C688.3 381.3 688.1 380.7 688.0 380.1 C687.9 379.5 687.8 378.9 687.7 378.2 C687.7 377.5 687.6 376.7 687.6 375.9 C687.6 375.2 687.6 374.3 687.7 373.5 C687.7 372.7 687.8 371.8 687.9 370.9 C688.0 370.1 688.1 369.2 688.3 368.3 C688.4 367.5 688.6 366.6 688.8 365.7 C689.0 364.9 689.2 364.1 689.5 363.3 C689.7 362.5 690.0 361.7 690.3 361.0 C690.5 360.2 690.8 359.5 691.1 358.9 C691.4 358.3 691.7 357.7 692.1 357.2 C692.4 356.7 692.7 356.2 693.0 355.8 C693.3 355.4 693.7 355.1 694.0 354.8 C694.3 354.6 694.6 354.4 694.9 354.3 C695.3 354.2 695.7 354.2 695.8 354.2 L704.2 355.6 L699.0 385.6 Z" />
<ellipse class="b" stroke-width="2.6999999999999997" cx="701.6" cy="370.6" rx="5.0" ry="15.2" transform="rotate(10.00 701.6 370.6)" />
<ellipse class="w" stroke-width="0.3" cx="701.8" cy="370.8" rx="0.8" ry="4.6" transform="rotate(10.00 701.8 370.8)" />
<path class="w" stroke-width="2.4" d="M653.2 353.6 L587.4 344.7 L586.7 344.8 L585.9 345.2 L585.2 346.0 L584.5 347.1 L583.9 348.5 L583.4 350.1 L583.0 351.8 L582.7 353.6 L582.6 355.4 L582.7 357.0 L582.9 358.5 L583.3 359.8 L583.7 360.8 L584.3 361.4 L585.0 361.7 L650.8 372.4" />
<ellipse class="w" stroke-width="2.4" cx="652.0" cy="363.1" rx="3.6" ry="9.6" transform="rotate(8.00 652.0 363.1)" />
<ellipse class="k" stroke-width="1.4" cx="652.2" cy="363.2" rx="1.4" ry="5.2" transform="rotate(8.00 652.2 363.2)" />
<ellipse class="b" stroke-width="2.0" cx="823.4" cy="388.7" rx="5.2" ry="12.8" transform="rotate(9.00 823.4 388.7)" />
<ellipse class="w" stroke-width="0.5" cx="825.2" cy="388.9" rx="3.6" ry="10.2" transform="rotate(9.00 825.2 388.9)" />
<path class="w" stroke-width="2.5999999999999996" d="M823.9 399.5 C823.8 399.4 823.5 399.3 823.3 399.2 C823.1 399.1 823.0 398.9 822.8 398.6 C822.6 398.4 822.5 398.1 822.3 397.8 C822.2 397.4 822.1 397.1 822.0 396.6 C821.9 396.2 821.8 395.8 821.7 395.3 C821.7 394.8 821.6 394.3 821.6 393.7 C821.6 393.2 821.6 392.6 821.6 392.0 C821.6 391.5 821.7 390.9 821.7 390.2 C821.8 389.6 821.8 389.0 821.9 388.4 C822.0 387.8 822.2 387.2 822.3 386.6 C822.4 386.0 822.6 385.4 822.7 384.9 C822.9 384.3 823.1 383.8 823.3 383.3 C823.5 382.8 823.7 382.3 823.9 381.8 C824.1 381.4 824.3 381.0 824.5 380.6 C824.7 380.2 825.0 379.9 825.2 379.6 C825.4 379.4 825.7 379.1 825.9 379.0 C826.1 378.8 826.4 378.7 826.6 378.6 C826.8 378.5 827.1 378.5 827.3 378.5 L833.8 379.0 L830.4 400.0 Z" />
<ellipse class="w" stroke-width="2.5999999999999996" cx="832.1" cy="389.5" rx="3.7" ry="10.6" transform="rotate(9.00 832.1 389.5)" />
<ellipse class="w" stroke-width="1.8" cx="832.4" cy="389.7" rx="1.4" ry="6.2" transform="rotate(9.00 832.4 389.7)" />
<path class="w" stroke-width="2.6999999999999997" d="M862.6 414.7 C862.4 414.6 861.8 414.5 861.5 414.2 C861.1 413.9 860.8 413.6 860.5 413.1 C860.3 412.7 860.0 412.1 859.8 411.5 C859.5 410.9 859.3 410.2 859.2 409.4 C859.0 408.6 858.9 407.8 858.8 406.9 C858.7 405.9 858.7 405.0 858.7 404.0 C858.6 402.9 858.7 401.9 858.7 400.8 C858.8 399.7 858.9 398.6 859.0 397.5 C859.1 396.3 859.3 395.2 859.5 394.1 C859.7 392.9 859.9 391.8 860.2 390.7 C860.5 389.6 860.8 388.5 861.1 387.5 C861.4 386.4 861.7 385.4 862.1 384.5 C862.5 383.5 862.8 382.6 863.2 381.8 C863.6 381.0 864.0 380.2 864.5 379.5 C864.9 378.9 865.3 378.2 865.7 377.7 C866.2 377.2 866.6 376.8 867.0 376.5 C867.4 376.2 867.9 375.9 868.3 375.8 C868.7 375.7 869.2 375.7 869.4 375.7 L878.4 376.5 L871.6 415.5 Z" />
<ellipse class="w" stroke-width="2.6999999999999997" cx="875.0" cy="396.0" rx="6.6" ry="19.8" transform="rotate(10.00 875.0 396.0)" />
<ellipse class="w" stroke-width="2.8" cx="875.6" cy="396.6" rx="3.9" ry="11.4" transform="rotate(10.00 875.6 396.6)" />
<ellipse class="w" stroke-width="1.6" cx="875.9" cy="397.0" rx="1.6" ry="6.6" transform="rotate(10.00 875.9 397.0)" />
<path class="w" stroke-width="2.6999999999999997" d="M951.3 428.0 C951.1 427.9 950.5 427.8 950.2 427.5 C949.8 427.2 949.5 426.9 949.2 426.4 C949.0 426.0 948.7 425.4 948.5 424.8 C948.2 424.2 948.0 423.5 947.9 422.7 C947.7 421.9 947.6 421.1 947.5 420.2 C947.4 419.2 947.4 418.3 947.4 417.3 C947.3 416.2 947.4 415.2 947.4 414.1 C947.5 413.0 947.6 411.9 947.7 410.8 C947.8 409.6 948.0 408.5 948.2 407.4 C948.4 406.2 948.6 405.1 948.9 404.0 C949.2 402.9 949.5 401.8 949.8 400.8 C950.1 399.7 950.4 398.7 950.8 397.8 C951.2 396.8 951.5 395.9 951.9 395.1 C952.3 394.3 952.7 393.5 953.2 392.8 C953.6 392.2 954.0 391.5 954.4 391.0 C954.9 390.5 955.3 390.1 955.7 389.8 C956.1 389.5 956.6 389.2 957.0 389.1 C957.4 389.0 957.9 389.0 958.1 389.0 L967.1 389.8 L960.3 428.8 Z" />
<ellipse class="w" stroke-width="2.6999999999999997" cx="963.7" cy="409.3" rx="6.6" ry="19.8" transform="rotate(10.00 963.7 409.3)" />
<ellipse class="w" stroke-width="2.8" cx="964.3" cy="409.9" rx="3.9" ry="11.4" transform="rotate(10.00 964.3 409.9)" />
<ellipse class="w" stroke-width="1.6" cx="964.6" cy="410.3" rx="1.6" ry="6.6" transform="rotate(10.00 964.6 410.3)" />
<ellipse class="b" stroke-width="2.0" cx="908.6" cy="401.6" rx="5.2" ry="13.2" transform="rotate(9.00 908.6 401.6)" />
<ellipse class="w" stroke-width="0.5" cx="910.4" cy="401.8" rx="3.6" ry="10.6" transform="rotate(9.00 910.4 401.8)" />
<path class="w" stroke-width="2.5999999999999996" d="M909.2 412.0 C909.1 411.9 908.8 411.9 908.6 411.7 C908.4 411.6 908.3 411.4 908.1 411.2 C908.0 411.0 907.8 410.7 907.7 410.4 C907.6 410.0 907.4 409.7 907.4 409.3 C907.3 408.9 907.2 408.4 907.1 408.0 C907.1 407.5 907.0 407.0 907.0 406.5 C907.0 405.9 907.0 405.4 907.0 404.8 C907.0 404.3 907.1 403.7 907.1 403.1 C907.2 402.5 907.3 401.9 907.3 401.4 C907.4 400.8 907.5 400.2 907.7 399.6 C907.8 399.0 907.9 398.5 908.1 397.9 C908.3 397.4 908.4 396.9 908.6 396.4 C908.8 395.9 909.0 395.4 909.2 395.0 C909.4 394.6 909.6 394.2 909.8 393.8 C910.0 393.5 910.2 393.2 910.5 392.9 C910.7 392.6 910.9 392.4 911.1 392.2 C911.3 392.1 911.6 392.0 911.8 391.9 C912.0 391.8 912.3 391.8 912.4 391.8 L919.7 392.1 L916.5 412.3 Z" />
<ellipse class="w" stroke-width="2.5999999999999996" cx="918.1" cy="402.2" rx="3.5" ry="10.2" transform="rotate(9.00 918.1 402.2)" />
<ellipse class="w" stroke-width="1.8" cx="918.4" cy="402.4" rx="1.3" ry="5.4" transform="rotate(9.00 918.4 402.4)" />
<path class="k" stroke-width="1.4" d="M911.5 398 l1.5 5 l1.6 -4" />
<ellipse class="w" stroke-width="2.3" cx="1110.0" cy="430.9" rx="8.0" ry="20.2" transform="rotate(11.00 1110.0 430.9)" />
<ellipse class="k" stroke-width="1.8" cx="1111.6" cy="431.2" rx="6.0" ry="16.0" transform="rotate(11.00 1111.6 431.2)" />
<ellipse class="b" stroke-width="1" cx="1111.4" cy="431.4" rx="3.4" ry="9.6" transform="rotate(11.00 1111.4 431.4)" />
<ellipse class="w" stroke-width="0.3" cx="1111.9" cy="431.6" rx="0.8" ry="4.0" transform="rotate(11.00 1111.9 431.6)" />
<path class="w" stroke-width="2.5" d="M1181.6 451.3 C1181.5 451.2 1181.2 451.1 1181.0 451.0 C1180.8 450.9 1180.7 450.7 1180.5 450.5 C1180.4 450.3 1180.2 450.0 1180.1 449.7 C1180.0 449.4 1179.9 449.1 1179.8 448.7 C1179.7 448.3 1179.6 447.9 1179.6 447.5 C1179.5 447.1 1179.5 446.6 1179.5 446.1 C1179.5 445.6 1179.5 445.1 1179.5 444.6 C1179.5 444.1 1179.6 443.6 1179.6 443.0 C1179.7 442.5 1179.8 441.9 1179.9 441.4 C1179.9 440.9 1180.1 440.3 1180.2 439.8 C1180.3 439.3 1180.5 438.8 1180.6 438.3 C1180.8 437.8 1180.9 437.3 1181.1 436.9 C1181.3 436.4 1181.5 436.0 1181.7 435.6 C1181.9 435.2 1182.1 434.8 1182.3 434.5 C1182.5 434.2 1182.7 433.9 1182.9 433.7 C1183.2 433.4 1183.4 433.3 1183.6 433.1 C1183.8 432.9 1184.0 432.8 1184.2 432.8 C1184.4 432.7 1184.7 432.7 1184.8 432.7 L1191.3 433.7 L1188.1 452.3 Z" />
<ellipse class="w" stroke-width="2.5" cx="1189.7" cy="443.0" rx="3.4" ry="9.4" transform="rotate(10.00 1189.7 443.0)" />
<ellipse class="w" stroke-width="2.4" cx="1190.6" cy="443.6" rx="5.6" ry="13.2" transform="rotate(10.00 1190.6 443.6)" />
<ellipse class="k" stroke-width="2.2" cx="1191.2" cy="443.8" rx="3.6" ry="9.2" transform="rotate(10.00 1191.2 443.8)" />
<ellipse class="k" stroke-width="1.6" cx="1191.5" cy="444.0" rx="1.4" ry="5.0" transform="rotate(10.00 1191.5 444.0)" />
<path class="w" stroke-width="2.7" d="M560.4 239.4 L568.6 238.8 L568.8 245.2 L561 246 Z M563 239.2 L563.4 246" />
<path class="w" stroke-width="2.7" d="M597 243.6 L609.5 242.8 L610.2 237.6 L616.8 237 L617.4 242.6 C617 248.5 612 251.5 606 251.4 L597.6 250.8 Z" />
<path class="k" stroke-width="1.9" d="M599.5 246 L608 245.6 M611 240.2 L616.4 239.8 M610.2 243.2 C613.5 243.4 615 245 614.6 247.4" />
<!-- p_hub11 -->
<path class="w" stroke-width="2.3" d="M1012.1 382.4 L1014.7 380.8 L1030.1 382.8 L1030.1 395.1 L1022.1 393.8 L1011.4 392.4 Z" />
<path class="k" stroke-width="2.0" d="M1012.1 382.4 L1022.8 383.7 L1022.1 393.8 M1022.8 383.7 L1030.1 382.8" />
<path class="w" stroke-width="2.3" d="M1002.0 400.0 L1017.4 402.8 L1023.4 402.8 L1023.4 411.8 L1016.7 411.1 L1001.4 409.1 Z" />
<path class="k" stroke-width="2.0" d="M1017.4 402.8 L1016.7 411.1" />
<path class="w" stroke-width="2.3" d="M999.4 430.8 L1002.7 427.3 L1018.8 429.2 L1018.8 443.2 L1014.1 442.6 L1000.0 441.2 Z" />
<path class="k" stroke-width="2.0" d="M999.4 430.8 L1014.7 433.2 L1014.1 442.6 M1014.7 433.2 L1018.8 429.2" />
<path class="w" stroke-width="2.3" d="M1006.7 443.9 L1018.8 445.5 L1018.8 452.6 L1006.0 450.9 Z" />
<ellipse class="w" stroke-width="2.4" cx="1030.1" cy="419.2" rx="13.4" ry="36.5" transform="rotate(8.00 1030.1 419.2)" />
<path class="k" stroke-width="2.2" d="M1030.8 454.1 C1030.7 454.1 1030.2 454.0 1030.0 453.8 C1029.7 453.7 1029.4 453.6 1029.1 453.4 C1028.9 453.2 1028.6 453.0 1028.3 452.8 C1028.1 452.5 1027.8 452.3 1027.6 452.0 C1027.3 451.7 1027.1 451.4 1026.9 451.0 C1026.6 450.7 1026.4 450.3 1026.2 449.9 C1026.0 449.5 1025.8 449.1 1025.6 448.7 C1025.4 448.2 1025.2 447.8 1025.0 447.3 C1024.8 446.8 1024.7 446.3 1024.5 445.8 C1024.3 445.2 1024.2 444.7 1024.0 444.1 C1023.9 443.6 1023.8 443.0 1023.6 442.4 C1023.5 441.7 1023.4 441.1 1023.3 440.5 C1023.2 439.8 1023.1 439.2 1023.0 438.5 C1022.9 437.8 1022.9 437.1 1022.8 436.4 C1022.7 435.7 1022.7 435.0 1022.7 434.3 C1022.6 433.5 1022.6 432.8 1022.6 432.0 C1022.6 431.3 1022.6 430.5 1022.6 429.7 C1022.6 429.0 1022.6 428.2 1022.6 427.4 C1022.6 426.6 1022.7 425.8 1022.7 425.0 C1022.8 424.2 1022.8 423.4 1022.9 422.6 C1023.0 421.8 1023.1 421.0 1023.2 420.2 C1023.2 419.4 1023.3 418.6 1023.5 417.8 C1023.6 417.0 1023.7 416.2 1023.8 415.4 C1024.0 414.6 1024.1 413.8 1024.3 413.0 C1024.4 412.2 1024.6 411.4 1024.7 410.6 C1024.9 409.8 1025.1 409.1 1025.3 408.3 C1025.5 407.5 1025.7 406.8 1025.9 406.0 C1026.1 405.3 1026.3 404.6 1026.5 403.8 C1026.8 403.1 1027.0 402.4 1027.2 401.7 C1027.5 401.0 1027.7 400.3 1028.0 399.7 C1028.2 399.0 1028.5 398.4 1028.7 397.7 C1029.0 397.1 1029.3 396.5 1029.6 395.9 C1029.8 395.3 1030.1 394.8 1030.4 394.2 C1030.7 393.7 1031.0 393.1 1031.3 392.6 C1031.6 392.1 1031.9 391.6 1032.2 391.2 C1032.5 390.7 1032.8 390.2 1033.1 389.8 C1033.4 389.4 1033.7 389.0 1034.0 388.7 C1034.3 388.3 1034.6 387.9 1035.0 387.6 C1035.3 387.3 1035.6 387.0 1035.9 386.8 C1036.2 386.5 1036.5 386.3 1036.9 386.0 C1037.2 385.8 1037.5 385.7 1037.8 385.5 C1038.1 385.3 1038.4 385.2 1038.7 385.1 C1039.0 385.0 1039.3 384.9 1039.7 384.9 C1040.0 384.9 1040.4 384.9 1040.6 384.9"/>
<path class="w" stroke-width="2.3" d="M1034.8 375.0 L1048.2 377.7 L1050.2 380.0 L1049.5 391.1 L1046.8 389.3 L1032.8 387.1 Z" />
<path class="k" stroke-width="2.0" d="M1048.2 377.7 L1046.8 389.3" />
<path class="w" stroke-width="2.3" d="M1027.4 454.9 L1041.5 457.3 L1042.8 458.6 L1041.9 468.0 L1040.1 468.2 L1026.8 466.6 Z" />
<path class="k" stroke-width="2.0" d="M1041.5 457.3 L1040.1 468.2" />
<ellipse class="w" stroke-width="2.8" cx="1046.8" cy="420.5" rx="12.4" ry="33.0" transform="rotate(8.00 1046.8 420.5)" />
<path class="k" stroke-width="2.2" d="M1024.5 445.8 L1035.4 444.4 M1022.9 436.9 L1033.9 435.8 M1022.7 426.2 L1033.9 425.6 M1024.0 414.2 L1035.3 414.2 M1026.7 403.3 L1038.0 404.1 M1030.4 394.2 L1041.6 395.8 M1034.0 388.7 L1045.1 390.8" />
<path class="b" stroke-width="0.5" d="M1024.5 445.8 L1024.0 443.8 L1023.5 441.7 L1023.1 439.4 L1022.9 436.9 L1033.9 435.8 L1034.2 438.2 L1034.5 440.4 L1034.9 442.5 L1035.4 444.4 Z" style="fill:#000;opacity:.0"/>
<path class="b" stroke-width="0.5" d="M1022.7 426.2 L1022.8 423.8 L1023.0 421.4 L1023.3 419.0 L1023.6 416.6 L1024.0 414.2 L1035.3 414.2 L1034.9 416.5 L1034.6 418.8 L1034.3 421.1 L1034.0 423.3 L1033.9 425.6 Z" style="fill:#000;opacity:.0"/>
<path class="b" stroke-width="0.5" d="M1026.7 403.3 L1027.5 400.8 L1028.4 398.5 L1029.4 396.3 L1030.4 394.2 L1041.6 395.8 L1040.6 397.7 L1039.7 399.7 L1038.8 401.8 L1038.0 404.1 Z" style="fill:#000;opacity:.0"/>
<ellipse class="w" stroke-width="3.0" cx="1050.8" cy="420.9" rx="11.2" ry="30.0" transform="rotate(8.00 1050.8 420.9)" />
<ellipse class="b" stroke-width="1.5" cx="1055.5" cy="421.4" rx="9.6" ry="26.0" transform="rotate(8.00 1055.5 421.4)" />
<ellipse class="w" stroke-width="1.0" cx="1058.5" cy="421.7" rx="8.6" ry="23.6" transform="rotate(8.00 1058.5 421.7)" />
<path class="b" stroke-width="1.2" d="M1045.5 409.8 L1050.4 413.4 L1045.1 416.5 Z M1043.5 434.5 L1048.8 437.9 L1043.5 441.0 Z" />
<ellipse class="w" stroke-width="2.8" cx="1060.9" cy="422.5" rx="7.4" ry="20.2" transform="rotate(8.00 1060.9 422.5)" />
<path class="k" stroke-width="2.4" d="M1049.9 390.1 C1051.2 390.1 1055.7 389.5 1057.5 390.1 C1059.3 390.7 1059.6 392.0 1060.6 393.8 C1061.6 395.5 1062.8 399.7 1063.3 400.8 M1047.5 450.6 C1048.5 450.3 1051.7 449.5 1053.5 448.6 C1055.3 447.6 1057.4 445.6 1058.2 445.0" />
<!-- p_pulley13 -->
<defs><clipPath id="p13c"><path d="M1243.1 532.0 L1241.3 532.5 L1239.5 532.6 L1237.7 532.3 L1236.1 531.7 L1234.5 530.6 L1233.0 529.2 L1231.5 527.4 L1230.2 525.2 L1229.0 522.7 L1227.8 519.8 L1226.8 516.7 L1226.0 513.2 L1225.2 509.4 L1224.6 505.3 L1224.1 501.0 L1223.7 496.5 L1223.5 491.8 L1223.4 486.8 L1223.4 481.7 L1223.6 476.5 L1223.9 471.2 L1224.4 465.8 L1225.0 460.3 L1225.7 454.8 L1226.5 449.3 L1227.5 443.8 L1228.6 438.4 L1229.7 433.0 L1231.0 427.8 L1232.4 422.7 L1233.9 417.7 L1235.5 413.0 L1237.1 408.4 L1238.9 404.1 L1240.6 400.0 L1242.5 396.2 L1244.3 392.7 L1246.2 389.5 L1248.2 386.6 L1250.1 384.0 L1252.0 381.8 L1254.0 380.0 L1255.9 378.5 L1257.8 377.4 L1259.7 376.7 L1261.5 376.4 L1263.3 376.5 L1265.0 376.9 L1266.6 377.7 L1268.2 379.0 L1269.7 380.6 L1271.1 382.5 L1291.7 382.6 L1290.3 380.6 L1288.8 379.0 L1287.3 377.8 L1285.6 376.9 L1283.9 376.5 L1282.2 376.4 L1280.3 376.7 L1278.5 377.5 L1276.6 378.6 L1274.6 380.1 L1272.7 381.9 L1270.7 384.2 L1268.8 386.8 L1266.9 389.7 L1264.9 392.9 L1263.1 396.5 L1261.2 400.4 L1259.4 404.5 L1257.7 408.9 L1256.1 413.5 L1254.5 418.3 L1253.0 423.3 L1251.6 428.5 L1250.3 433.8 L1249.1 439.2 L1248.0 444.7 L1247.0 450.3 L1246.2 455.8 L1245.4 461.4 L1244.9 466.9 L1244.4 472.4 L1244.1 477.8 L1243.9 483.1 L1243.8 488.3 L1243.9 493.3 L1244.1 498.1 L1244.5 502.7 L1245.0 507.0 L1245.6 511.1 L1246.3 514.9 L1247.2 518.5 L1248.2 521.7 L1249.3 524.6 L1250.5 527.1 L1251.9 529.3 L1253.3 531.1 L1254.8 532.6 L1256.4 533.6 L1258.1 534.3 L1259.8 534.6 L1261.6 534.5 L1263.5 534.0 Z"/></clipPath></defs>
<path class="b" stroke-width="2.0" d="M1243.1 532.0 L1241.3 532.5 L1239.5 532.6 L1237.7 532.3 L1236.1 531.7 L1234.5 530.6 L1233.0 529.2 L1231.5 527.4 L1230.2 525.2 L1229.0 522.7 L1227.8 519.8 L1226.8 516.7 L1226.0 513.2 L1225.2 509.4 L1224.6 505.3 L1224.1 501.0 L1223.7 496.5 L1223.5 491.8 L1223.4 486.8 L1223.4 481.7 L1223.6 476.5 L1223.9 471.2 L1224.4 465.8 L1225.0 460.3 L1225.7 454.8 L1226.5 449.3 L1227.5 443.8 L1228.6 438.4 L1229.7 433.0 L1231.0 427.8 L1232.4 422.7 L1233.9 417.7 L1235.5 413.0 L1237.1 408.4 L1238.9 404.1 L1240.6 400.0 L1242.5 396.2 L1244.3 392.7 L1246.2 389.5 L1248.2 386.6 L1250.1 384.0 L1252.0 381.8 L1254.0 380.0 L1255.9 378.5 L1257.8 377.4 L1259.7 376.7 L1261.5 376.4 L1263.3 376.5 L1265.0 376.9 L1266.6 377.7 L1268.2 379.0 L1269.7 380.6 L1271.1 382.5 L1291.7 382.6 L1290.3 380.6 L1288.8 379.0 L1287.3 377.8 L1285.6 376.9 L1283.9 376.5 L1282.2 376.4 L1280.3 376.7 L1278.5 377.5 L1276.6 378.6 L1274.6 380.1 L1272.7 381.9 L1270.7 384.2 L1268.8 386.8 L1266.9 389.7 L1264.9 392.9 L1263.1 396.5 L1261.2 400.4 L1259.4 404.5 L1257.7 408.9 L1256.1 413.5 L1254.5 418.3 L1253.0 423.3 L1251.6 428.5 L1250.3 433.8 L1249.1 439.2 L1248.0 444.7 L1247.0 450.3 L1246.2 455.8 L1245.4 461.4 L1244.9 466.9 L1244.4 472.4 L1244.1 477.8 L1243.9 483.1 L1243.8 488.3 L1243.9 493.3 L1244.1 498.1 L1244.5 502.7 L1245.0 507.0 L1245.6 511.1 L1246.3 514.9 L1247.2 518.5 L1248.2 521.7 L1249.3 524.6 L1250.5 527.1 L1251.9 529.3 L1253.3 531.1 L1254.8 532.6 L1256.4 533.6 L1258.1 534.3 L1259.8 534.6 L1261.6 534.5 L1263.5 534.0 Z" />
<g clip-path="url(#p13c)">
<path d="M1235.1 529.5 L1249.8 531.3" stroke="#fff" stroke-width="0.40" fill="none"/>
<path d="M1233.3 527.2 L1247.9 529.0" stroke="#fff" stroke-width="0.40" fill="none"/>
<path d="M1231.6 524.2 L1246.2 526.2" stroke="#fff" stroke-width="0.61" fill="none"/>
<path d="M1230.1 520.7 L1244.7 522.8" stroke="#fff" stroke-width="0.88" fill="none"/>
<path d="M1228.8 516.6 L1243.3 518.8" stroke="#fff" stroke-width="1.17" fill="none"/>
<path d="M1227.7 512.1 L1242.2 514.3" stroke="#fff" stroke-width="1.49" fill="none"/>
<path d="M1226.8 507.0 L1241.3 509.3" stroke="#fff" stroke-width="1.81" fill="none"/>
<path d="M1226.2 501.6 L1240.6 503.8" stroke="#fff" stroke-width="2.14" fill="none"/>
<path d="M1225.7 495.7 L1240.1 498.0" stroke="#fff" stroke-width="2.45" fill="none"/>
<path d="M1225.5 489.5 L1239.8 491.8" stroke="#fff" stroke-width="2.74" fill="none"/>
<path d="M1225.5 483.0 L1239.7 485.3" stroke="#fff" stroke-width="3.00" fill="none"/>
<path d="M1225.7 476.3 L1239.9 478.6" stroke="#fff" stroke-width="3.23" fill="none"/>
<path d="M1226.1 469.4 L1240.3 471.7" stroke="#fff" stroke-width="3.40" fill="none"/>
<path d="M1226.8 462.3 L1241.0 464.6" stroke="#fff" stroke-width="3.52" fill="none"/>
<path d="M1227.7 455.3 L1241.8 457.5" stroke="#fff" stroke-width="3.59" fill="none"/>
<path d="M1228.8 448.2 L1242.9 450.3" stroke="#fff" stroke-width="3.60" fill="none"/>
<path d="M1230.1 441.1 L1244.1 443.2" stroke="#fff" stroke-width="3.54" fill="none"/>
<path d="M1231.5 434.2 L1245.6 436.2" stroke="#fff" stroke-width="3.43" fill="none"/>
<path d="M1233.2 427.4 L1247.2 429.3" stroke="#fff" stroke-width="3.27" fill="none"/>
<path d="M1235.0 420.9 L1249.0 422.7" stroke="#fff" stroke-width="3.06" fill="none"/>
<path d="M1237.0 414.6 L1251.0 416.3" stroke="#fff" stroke-width="2.81" fill="none"/>
<path d="M1239.1 408.7 L1253.1 410.2" stroke="#fff" stroke-width="2.52" fill="none"/>
<path d="M1241.3 403.2 L1255.3 404.5" stroke="#fff" stroke-width="2.21" fill="none"/>
<path d="M1243.6 398.0 L1257.6 399.3" stroke="#fff" stroke-width="1.89" fill="none"/>
<path d="M1246.0 393.4 L1260.0 394.5" stroke="#fff" stroke-width="1.56" fill="none"/>
<path d="M1248.5 389.2 L1262.4 390.2" stroke="#fff" stroke-width="1.24" fill="none"/>
<path d="M1251.0 385.6 L1264.9 386.4" stroke="#fff" stroke-width="0.94" fill="none"/>
<path d="M1253.5 382.5 L1267.4 383.2" stroke="#fff" stroke-width="0.67" fill="none"/>
<path d="M1256.0 380.1 L1269.9 380.6" stroke="#fff" stroke-width="0.44" fill="none"/>
</g>
<ellipse class="w" stroke-width="2.5" cx="1271.5" cy="455.5" rx="25.0" ry="80.0" transform="rotate(9.00 1271.5 455.5)" />
<ellipse class="k" stroke-width="2.0" cx="1271.8" cy="456.0" rx="19.4" ry="72.5" transform="rotate(9.00 1271.8 456.0)" />
<path class="k" stroke-width="3.0" d="M1251.4 488.7 C1251.4 487.9 1251.4 485.7 1251.5 484.2 C1251.5 482.7 1251.6 481.1 1251.6 479.6 C1251.7 478.0 1251.8 476.4 1251.9 474.9 C1252.0 473.3 1252.2 471.6 1252.3 470.0 C1252.5 468.4 1252.6 466.8 1252.8 465.1 C1253.0 463.5 1253.2 461.8 1253.4 460.2 C1253.6 458.5 1253.9 456.9 1254.1 455.2 C1254.4 453.6 1254.6 451.9 1254.9 450.3 C1255.2 448.6 1255.5 447.0 1255.8 445.3 C1256.1 443.7 1256.4 442.1 1256.8 440.4 C1257.1 438.8 1257.5 437.2 1257.8 435.7 C1258.2 434.1 1258.6 432.5 1259.0 431.0 C1259.4 429.4 1259.8 427.9 1260.2 426.4 C1260.6 424.9 1261.0 423.4 1261.4 422.0 C1261.9 420.5 1262.3 419.1 1262.8 417.7 C1263.2 416.3 1263.7 415.0 1264.2 413.7 C1264.6 412.4 1265.1 411.1 1265.6 409.8 C1266.1 408.6 1266.5 407.4 1267.0 406.2 C1267.5 405.1 1268.0 403.9 1268.5 402.9 C1269.0 401.8 1269.5 400.8 1270.1 399.8 C1270.6 398.8 1271.1 397.8 1271.6 397.0 C1272.1 396.1 1272.6 395.2 1273.1 394.4 C1273.6 393.7 1274.2 392.9 1274.7 392.2 C1275.2 391.6 1275.7 390.9 1276.2 390.4 C1276.7 389.8 1277.2 389.3 1277.7 388.8 C1278.2 388.3 1278.7 387.9 1279.2 387.6 C1279.7 387.2 1280.2 386.9 1280.7 386.7 C1281.2 386.5 1281.6 386.3 1282.1 386.2 C1282.6 386.1 1283.0 386.0 1283.5 386.0 C1284.0 386.0 1284.4 386.1 1284.8 386.2 C1285.3 386.3 1285.7 386.5 1286.1 386.7 C1286.5 386.9 1286.9 387.2 1287.3 387.6 C1287.7 387.9 1288.1 388.3 1288.5 388.8 C1288.8 389.3 1289.2 389.8 1289.5 390.4 C1289.9 390.9 1290.2 391.6 1290.5 392.2 C1290.8 392.9 1291.1 393.7 1291.4 394.4 C1291.7 395.2 1292.1 396.5 1292.2 397.0"/>
<path class="w" stroke-width="2.7" d="M1277.5 412.8 L1286.2 393.4 L1288.6 398.0 L1290.3 404.8 L1280.6 421.8 L1279.3 416.3 Z" />
<path class="w" stroke-width="2.7" d="M1281.2 428.4 L1291.6 417.9 L1291.7 428.7 L1291.0 440.6 L1280.7 446.2 L1281.3 436.8 Z" />
<path class="w" stroke-width="2.7" d="M1279.6 455.2 L1288.8 458.6 L1286.5 471.0 L1283.7 482.9 L1275.6 474.2 L1277.9 465.0 Z" />
<path class="w" stroke-width="2.7" d="M1273.2 481.9 L1278.9 498.2 L1275.3 506.9 L1271.6 513.8 L1267.5 494.2 L1270.4 488.9 Z" />
<path class="w" stroke-width="2.7" d="M1264.9 497.2 L1266.2 519.9 L1263.1 521.2 L1260.2 520.6 L1260.2 497.8 L1262.4 498.5 Z" />
<path class="k" stroke-width="3.2" d="M1281.0 424.9 L1291.2 410.9 M1280.2 450.7 L1290.1 449.5 M1274.5 478.2 L1281.4 490.9 M1266.2 495.9 L1268.8 517.4" />
<path class="k" stroke-width="3.0" d="M1255.4 493.2 C1255.3 493.2 1255.0 493.0 1254.8 492.8 C1254.7 492.6 1254.5 492.4 1254.3 492.1 C1254.1 491.9 1253.9 491.6 1253.8 491.3 C1253.6 491.0 1253.4 490.7 1253.3 490.3 C1253.1 489.9 1253.0 489.5 1252.8 489.1 C1252.7 488.7 1252.6 488.2 1252.5 487.7 C1252.3 487.2 1252.2 486.7 1252.1 486.2 C1252.0 485.7 1251.9 485.1 1251.8 484.5 C1251.7 483.9 1251.7 483.3 1251.6 482.6 C1251.5 482.0 1251.5 481.3 1251.4 480.6 C1251.4 480.0 1251.3 479.2 1251.3 478.5 C1251.3 477.8 1251.2 477.0 1251.2 476.3 C1251.2 475.5 1251.2 474.7 1251.2 473.9 C1251.2 473.1 1251.2 472.3 1251.3 471.4 C1251.3 470.6 1251.3 469.8 1251.4 468.9 C1251.4 468.0 1251.5 467.2 1251.5 466.3 C1251.6 465.4 1251.7 464.5 1251.7 463.6 C1251.8 462.7 1251.9 461.8 1252.0 460.9 C1252.1 459.9 1252.2 459.0 1252.3 458.1 C1252.4 457.2 1252.6 456.2 1252.7 455.3 C1252.8 454.4 1253.0 453.4 1253.1 452.5 C1253.3 451.6 1253.4 450.7 1253.6 449.7 C1253.7 448.8 1253.9 447.9 1254.1 447.0 C1254.3 446.0 1254.5 445.1 1254.6 444.2 C1254.8 443.3 1255.0 442.4 1255.2 441.6 C1255.4 440.7 1255.6 439.8 1255.9 438.9 C1256.1 438.1 1256.3 437.2 1256.5 436.4 C1256.7 435.6 1257.0 434.7 1257.2 433.9 C1257.4 433.1 1257.7 432.4 1257.9 431.6 C1258.2 430.8 1258.4 430.1 1258.7 429.3 C1258.9 428.6 1259.2 427.9 1259.4 427.2 C1259.7 426.5 1259.9 425.9 1260.2 425.2 C1260.5 424.6 1260.7 424.0 1261.0 423.4 C1261.2 422.8 1261.5 422.2 1261.8 421.7 C1262.0 421.2 1262.3 420.7 1262.6 420.2 C1262.8 419.7 1263.1 419.2 1263.4 418.8 C1263.6 418.4 1263.9 418.0 1264.2 417.6 C1264.4 417.3 1264.7 416.9 1264.9 416.6 C1265.2 416.3 1265.5 416.1 1265.7 415.8 C1266.0 415.6 1266.2 415.4 1266.5 415.2 C1266.7 415.0 1267.0 414.9 1267.2 414.8 C1267.4 414.6 1267.8 414.6 1267.9 414.5"/>
<ellipse class="w" stroke-width="2.2" cx="1260.5" cy="453.0" rx="8.6" ry="30.0" transform="rotate(9.00 1260.5 453.0)" />
<path class="k" stroke-width="1.6" d="M1266.4 426.7 C1266.4 426.8 1266.7 426.9 1266.8 427.0 C1266.9 427.1 1267.1 427.3 1267.2 427.5 C1267.3 427.6 1267.4 427.8 1267.6 428.0 C1267.7 428.2 1267.8 428.5 1267.9 428.7 C1268.0 429.0 1268.1 429.2 1268.2 429.5 C1268.3 429.8 1268.4 430.1 1268.5 430.4 C1268.6 430.8 1268.6 431.1 1268.7 431.5 C1268.8 431.9 1268.9 432.2 1268.9 432.6 C1269.0 433.0 1269.0 433.5 1269.1 433.9 C1269.1 434.3 1269.2 434.8 1269.2 435.2 C1269.2 435.7 1269.3 436.2 1269.3 436.7 C1269.3 437.2 1269.3 437.7 1269.4 438.2 C1269.4 438.7 1269.4 439.2 1269.4 439.8 C1269.4 440.3 1269.4 440.9 1269.3 441.5 C1269.3 442.0 1269.3 442.6 1269.3 443.2 C1269.3 443.8 1269.2 444.3 1269.2 444.9 C1269.1 445.5 1269.1 446.1 1269.0 446.8 C1269.0 447.4 1268.9 448.0 1268.9 448.6 C1268.8 449.2 1268.7 449.8 1268.6 450.5 C1268.6 451.1 1268.5 451.7 1268.4 452.3 C1268.3 453.0 1268.2 453.6 1268.1 454.2 C1268.0 454.9 1267.9 455.5 1267.8 456.1 C1267.7 456.7 1267.6 457.4 1267.5 458.0 C1267.3 458.6 1267.2 459.2 1267.1 459.8 C1267.0 460.4 1266.8 461.0 1266.7 461.6 C1266.5 462.2 1266.4 462.8 1266.3 463.4 C1266.1 464.0 1266.0 464.5 1265.8 465.1 C1265.7 465.7 1265.5 466.2 1265.3 466.8 C1265.2 467.3 1265.0 467.8 1264.8 468.4 C1264.7 468.9 1264.5 469.4 1264.3 469.9 C1264.2 470.4 1264.0 470.8 1263.8 471.3 C1263.6 471.8 1263.5 472.2 1263.3 472.6 C1263.1 473.1 1262.9 473.5 1262.7 473.9 C1262.6 474.3 1262.4 474.7 1262.2 475.0 C1262.0 475.4 1261.8 475.7 1261.7 476.0 C1261.5 476.4 1261.3 476.7 1261.1 477.0 C1260.9 477.3 1260.7 477.5 1260.6 477.8 C1260.4 478.0 1260.2 478.2 1260.0 478.4 C1259.8 478.6 1259.7 478.8 1259.5 479.0 C1259.3 479.1 1259.1 479.3 1259.0 479.4 C1258.8 479.5 1258.6 479.6 1258.5 479.7 C1258.3 479.8 1258.0 479.8 1258.0 479.9"/>
<!-- p_pulley14 -->
<path class="b" stroke-width="2.2" d="M1187.0 701.3 L1185.8 701.6 L1184.6 701.5 L1183.5 701.0 L1182.5 700.3 L1181.5 699.2 L1180.6 697.8 L1179.8 696.1 L1179.1 694.1 L1178.5 691.8 L1178.0 689.3 L1177.7 686.6 L1177.4 683.8 L1177.3 680.7 L1177.3 677.6 L1177.4 674.4 L1177.7 671.1 L1178.1 667.8 L1178.6 664.6 L1179.2 661.4 L1179.9 658.3 L1180.7 655.4 L1181.6 652.6 L1182.6 650.0 L1183.7 647.6 L1184.8 645.5 L1185.9 643.6 L1187.1 642.0 L1188.3 640.8 L1189.5 639.8 L1190.7 639.3 L1191.9 639.0 L1193.1 639.1 L1194.2 639.5 L1195.2 640.3 L1196.2 641.4 L1217.4 644.1 L1216.5 643.0 L1215.5 642.2 L1214.4 641.8 L1213.3 641.7 L1212.1 642.0 L1211.0 642.6 L1209.8 643.5 L1208.6 644.8 L1207.5 646.4 L1206.4 648.2 L1205.3 650.4 L1204.3 652.7 L1203.3 655.3 L1202.4 658.1 L1201.6 661.1 L1200.9 664.2 L1200.3 667.4 L1199.8 670.6 L1199.4 673.9 L1199.2 677.2 L1199.0 680.4 L1199.0 683.5 L1199.1 686.5 L1199.3 689.4 L1199.7 692.1 L1200.1 694.6 L1200.7 696.9 L1201.4 698.8 L1202.1 700.5 L1203.0 701.9 L1203.9 703.0 L1204.9 703.8 L1206.0 704.2 L1207.1 704.3 L1208.2 704.0 Z" />
<ellipse class="b" stroke-width="2.4" cx="1188.9" cy="670.3" rx="11.0" ry="31.5" transform="rotate(7.00 1188.9 670.3)" />
<ellipse class="b" stroke-width="2.6" cx="1210.2" cy="673.0" rx="10.6" ry="31.5" transform="rotate(7.00 1210.2 673.0)" />
<path class="w" stroke-width="0" d="M1194.7 638.4 L1198.0 642.6 L1202.9 642.9 L1207.5 642.0 L1200.2 640.7 Z" style="stroke:none"/>
<path class="w" stroke-width="0" d="M1187.8 701.6 L1191.0 699.8 L1198.3 700.9 L1202.0 704.5 L1194.7 703.1 Z" style="stroke:none"/>
<path d="M1188.2 649.1 L1199.1 651.3" stroke="#fff" stroke-width="1.2" fill="none"/>
<path d="M1188.1 654.6 L1199.0 656.8" stroke="#fff" stroke-width="2.0" fill="none"/>
<path d="M1187.9 661.0 L1198.9 663.2" stroke="#fff" stroke-width="2.8" fill="none"/>
<path d="M1187.8 667.4 L1198.7 669.5" stroke="#fff" stroke-width="4.6" fill="none"/>
<path d="M1187.6 675.6 L1198.6 677.7" stroke="#fff" stroke-width="4.6" fill="none"/>
<path d="M1187.5 682.9 L1198.4 685.0" stroke="#fff" stroke-width="2.6" fill="none"/>
<path d="M1187.4 688.3 L1198.3 690.5" stroke="#fff" stroke-width="1.8" fill="none"/>
<path d="M1187.3 693.8 L1198.2 696.0" stroke="#fff" stroke-width="1.2" fill="none"/>
<path class="k" style="stroke:#fff" stroke-width="1.0" d="M1181.3 693.1 C1181.2 692.9 1181.1 692.4 1181.0 692.0 C1180.9 691.7 1180.8 691.3 1180.7 690.9 C1180.6 690.5 1180.6 690.0 1180.5 689.6 C1180.4 689.2 1180.4 688.7 1180.3 688.2 C1180.2 687.8 1180.2 687.3 1180.1 686.8 C1180.1 686.3 1180.0 685.8 1180.0 685.2 C1180.0 684.7 1180.0 684.2 1179.9 683.6 C1179.9 683.1 1179.9 682.5 1179.9 681.9 C1179.9 681.4 1179.9 680.8 1179.9 680.2 C1179.9 679.6 1179.9 679.0 1179.9 678.4 C1179.9 677.8 1179.9 677.2 1180.0 676.6 C1180.0 676.0 1180.0 675.4 1180.1 674.7 C1180.1 674.1 1180.2 673.5 1180.2 672.8 C1180.3 672.2 1180.3 671.6 1180.4 670.9 C1180.5 670.3 1180.5 669.7 1180.6 669.0 C1180.7 668.4 1180.8 667.8 1180.9 667.1 C1181.0 666.5 1181.1 665.9 1181.2 665.2 C1181.3 664.6 1181.4 664.0 1181.5 663.4 C1181.6 662.8 1181.7 662.1 1181.8 661.5 C1181.9 660.9 1182.1 660.3 1182.2 659.7 C1182.3 659.2 1182.5 658.6 1182.6 658.0 C1182.7 657.4 1182.9 656.9 1183.0 656.3 C1183.2 655.8 1183.3 655.2 1183.5 654.7 C1183.6 654.2 1183.8 653.7 1184.0 653.2 C1184.1 652.7 1184.3 652.2 1184.4 651.7 C1184.6 651.2 1184.8 650.8 1185.0 650.3 C1185.1 649.9 1185.3 649.4 1185.5 649.0 C1185.7 648.6 1185.8 648.2 1186.0 647.9 C1186.2 647.5 1186.4 647.1 1186.5 646.8 C1186.7 646.5 1187.0 646.0 1187.1 645.8"/>
<ellipse class="k" style="stroke:#fff" stroke-width="1.2" cx="1211.1" cy="673.2" rx="7.4" ry="26.5" transform="rotate(7.00 1211.1 673.2)" />
<ellipse class="k" style="stroke:#fff" stroke-width="1.0" cx="1211.1" cy="673.2" rx="5.2" ry="20.5" transform="rotate(7.00 1211.1 673.2)" />
<!-- p_bolts -->
<path class="k" stroke-width="2.2" d="M1363.0 472.8 L1424.5 442.3 M1363.0 472.8 L1433.9 457.4 M1363.0 472.8 L1410.5 472.8 M1363.0 472.8 L1429.2 496.2 M1363.0 472.8 L1413.8 504.4 M1363.0 472.8 L1416.7 526.9" />
<g transform="translate(1423.2 446.3) rotate(8)">
<rect x="0" y="-3.1" width="17" height="6.2" class="w" stroke-width="2.3"/>
<rect x="16" y="-6.2" width="9.6" height="12.4" rx="3.4" ry="3.4" class="b" stroke-width="1.2"/>
</g>
<g transform="translate(1432.5 460.5) rotate(8)">
<rect x="0" y="-3.1" width="17" height="6.2" class="w" stroke-width="2.3"/>
<rect x="16" y="-6.2" width="9.6" height="12.4" rx="3.4" ry="3.4" class="b" stroke-width="1.2"/>
</g>
<g transform="translate(1410.5 470.1) rotate(8)">
<rect x="0" y="-3.1" width="17" height="6.2" class="w" stroke-width="2.3"/>
<rect x="16" y="-6.2" width="9.6" height="12.4" rx="3.4" ry="3.4" class="b" stroke-width="1.2"/>
</g>
<g transform="translate(1428.5 499.5) rotate(8)">
<rect x="0" y="-3.1" width="17" height="6.2" class="w" stroke-width="2.3"/>
<rect x="16" y="-6.2" width="9.6" height="12.4" rx="3.4" ry="3.4" class="b" stroke-width="1.2"/>
</g>
<g transform="translate(1407.1 508.2) rotate(8)">
<rect x="0" y="-3.1" width="17" height="6.2" class="w" stroke-width="2.3"/>
<rect x="16" y="-6.2" width="9.6" height="12.4" rx="3.4" ry="3.4" class="b" stroke-width="1.2"/>
</g>
<g transform="translate(1416.5 523.3) rotate(8)">
<rect x="0" y="-3.1" width="17" height="6.2" class="w" stroke-width="2.3"/>
<rect x="16" y="-6.2" width="9.6" height="12.4" rx="3.4" ry="3.4" class="b" stroke-width="1.2"/>
</g>
<!-- p_belt -->
<path class="w" stroke-width="2.7" d="M1518.2 425.5 C1519.1 424.4 1521.2 420.6 1523.5 418.8 C1525.8 417.0 1528.3 415.3 1532.3 414.9 C1536.3 414.5 1543.2 414.9 1547.6 416.6 C1552.0 418.3 1555.7 420.4 1558.5 425.0 C1561.3 429.6 1563.3 437.5 1564.6 444.0 C1565.8 450.5 1566.3 454.1 1566.0 463.8 C1565.7 473.5 1564.8 490.5 1563.0 502.0 C1561.2 513.5 1558.2 523.3 1555.2 532.7 C1552.2 542.1 1549.2 549.5 1545.0 558.2 C1540.8 566.9 1534.8 576.4 1529.7 585.0 C1524.6 593.6 1517.0 605.8 1514.4 610.0 L1411 792.4 C1410.4 793.1 1408.7 795.6 1407.5 796.6 C1406.3 797.6 1407.3 798.6 1403.9 798.1 C1400.5 797.6 1390.2 796.2 1386.9 793.9 C1383.6 791.5 1384.8 787.8 1384.2 784.0 C1383.7 780.2 1383.4 775.7 1383.6 771.2 C1383.8 766.7 1384.6 761.7 1385.6 757.0 C1386.6 752.3 1389.0 745.2 1389.7 742.9 L1518.2 425.5 Z" />
<path class="k" stroke-width="2.6" d="M1402.5 793.9  C1402.3 792.1 1401.5 786.8 1401.2 783.0 C1401.0 779.2 1400.8 775.0 1401.0 771.2 C1401.2 767.4 1401.6 763.8 1402.6 760.0 C1403.5 756.2 1406.0 750.4 1406.7 748.5 L1527.2 443.4  C1528.2 441.3 1531.5 434.6 1533.5 431.0 C1535.5 427.4 1537.9 423.6 1539.5 421.5 C1541.1 419.4 1542.2 418.1 1543.2 418.4 C1544.2 418.7 1545.1 420.4 1545.8 423.5 C1546.5 426.6 1547.1 432.4 1547.6 437.0 C1548.1 441.6 1548.5 444.4 1548.9 451.0 C1549.3 457.6 1550.5 465.9 1550.1 476.5 C1549.7 487.1 1548.4 503.3 1546.3 514.8 C1544.2 526.3 1541.5 535.6 1537.4 545.4 C1533.4 555.2 1526.8 565.1 1522.0 573.5 C1517.2 581.9 1510.8 592.2 1508.6 596.0 L1402.6 776.9" />
<g transform="translate(1433.2 650) rotate(-65.65)">
<rect x="0" y="-4.0" width="32.6" height="8.2" rx="2.5" fill="#000"/><rect x="40.5" y="-4.0" width="59" height="8.2" rx="2.5" fill="#000"/>
<rect x="6.5" y="-1.2" width="0.9" height="2.4" fill="#fff" opacity=".8"/><rect x="13.0" y="-1.2" width="0.9" height="2.4" fill="#fff" opacity=".8"/><rect x="19.5" y="-1.2" width="0.9" height="2.4" fill="#fff" opacity=".8"/><rect x="26.0" y="-1.2" width="0.9" height="2.4" fill="#fff" opacity=".8"/><rect x="48.0" y="-1.2" width="0.9" height="2.4" fill="#fff" opacity=".8"/><rect x="55.0" y="-1.2" width="0.9" height="2.4" fill="#fff" opacity=".8"/><rect x="62.0" y="-1.2" width="0.9" height="2.4" fill="#fff" opacity=".8"/><rect x="69.0" y="-1.2" width="0.9" height="2.4" fill="#fff" opacity=".8"/><rect x="76.0" y="-1.2" width="0.9" height="2.4" fill="#fff" opacity=".8"/><rect x="83.0" y="-1.2" width="0.9" height="2.4" fill="#fff" opacity=".8"/><rect x="90.0" y="-1.2" width="0.9" height="2.4" fill="#fff" opacity=".8"/>
</g>
<!-- p_brake18 -->
<path class="k" stroke-width="1.9" d="M756.9 277.1 L745.3 342.8 M756.9 277.1 L752.1 341.8 M756.9 277.1 L757.9 343.2 M756.9 277.1 L761.8 345.1 M756.9 277.1 L766.1 346.3 M756.9 277.1 L770.9 349.0" />
<path class="b" stroke-width="2" d="M756.0 342.8 L761.8 343.7 L770.9 348.6 L772.5 356.4 L770.9 366.1 L773.5 373.9 L772.5 381.7 L768.6 389.4 L768.2 405.0 L763.7 410.8 L755.0 415.7 L749.2 401.1 L751.1 389.4 L749.2 373.9 L752.1 366.1 L753.1 352.5 Z" />
<path class="w" stroke-width="1.2" d="M759.9 366.1 L766.7 367.7 L766.3 373.9 L759.5 372.3 Z" />
<path class="w" stroke-width="1.2" d="M756.9 378.7 L763.2 380.1 L762.8 386.5 L756.6 385.2 Z" />
<path class="w" stroke-width="1.0" d="M758.9 399.2 L764.3 397.2 L763.9 403.4 L758.9 405.4 Z" />
<path class="w" stroke-width="2.3" d="M744.9 342.4 L757.9 344.3 L756.2 364.6 L739.4 360.7 L739.1 350.6 Z" />
<path class="k" stroke-width="1.8" d="M739.1 350.6 L742.9 352.9 L756.9 354.8 M742.9 352.9 L744.9 342.4" />
<path class="w" stroke-width="2.4" d="M734.0 369.6 L751.5 371.6 L750.3 389.8 L732.4 386.7 Z" />
<path class="k" stroke-width="1.6" d="M732.8 381.7 L750.3 384.8" />
<path class="w" stroke-width="2.4" d="M734.8 393.3 L753.4 396.8 L755.4 415.1 L737.1 410.4 L733.2 401.5 Z" />
<path class="k" stroke-width="1.8" d="M733.2 401.5 L737.5 399.2 L754.2 402.7 M737.5 399.2 L737.1 410.4" />
<!-- p_wm -->
<text x="1473.5" y="814.6" style="font-family:'Liberation Sans',sans-serif;font-size:18.6px;fill:#b4b4b4" textLength="88.5" lengthAdjust="spacingAndGlyphs">Windows</text>
<path d="M1430.5 802.5 l2.2 2 M1429.6 807.5 l2.2 2 M1429.8 817 l3 -5.5 M1436.5 800.3 l-1.2 2.2 M1434.6 803.2 h5 v4.2 h-5 z M1434.6 805.3 h5 M1433.8 809.6 h6.6 M1436.6 809.6 v2.4 M1434.6 812 h4.6 c0 3 -0.6 5 -2 5.4 M1436.2 812 c-0.2 2.6 -1 4.4 -2.6 5.6 M1443.2 800.4 c-0.4 2.4 -1.2 4.4 -2.4 6 M1442.4 803.6 h5.2 M1446.4 803.6 c-0.6 5.6 -2.6 10.4 -6 13.6 M1442.2 806.4 c1 4.6 3 8.4 5.8 10.8" stroke="#b4b4b4" stroke-width="1.4" fill="none" stroke-linecap="round" stroke-linejoin="round"/>
<path d="M1451.5 802.5 l2.2 2 M1450.6 807.5 l2.2 2 M1450.8 817 l3 -5.5 M1466 801 c-3 1.2 -6.4 1.8 -9.6 2 M1455.2 807.2 h12.4 M1461.2 802.6 v9 M1457 811.6 h8.6 v5.8 h-8.6 z" stroke="#b4b4b4" stroke-width="1.4" fill="none" stroke-linecap="round" stroke-linejoin="round"/>
</svg>
</body></html>
